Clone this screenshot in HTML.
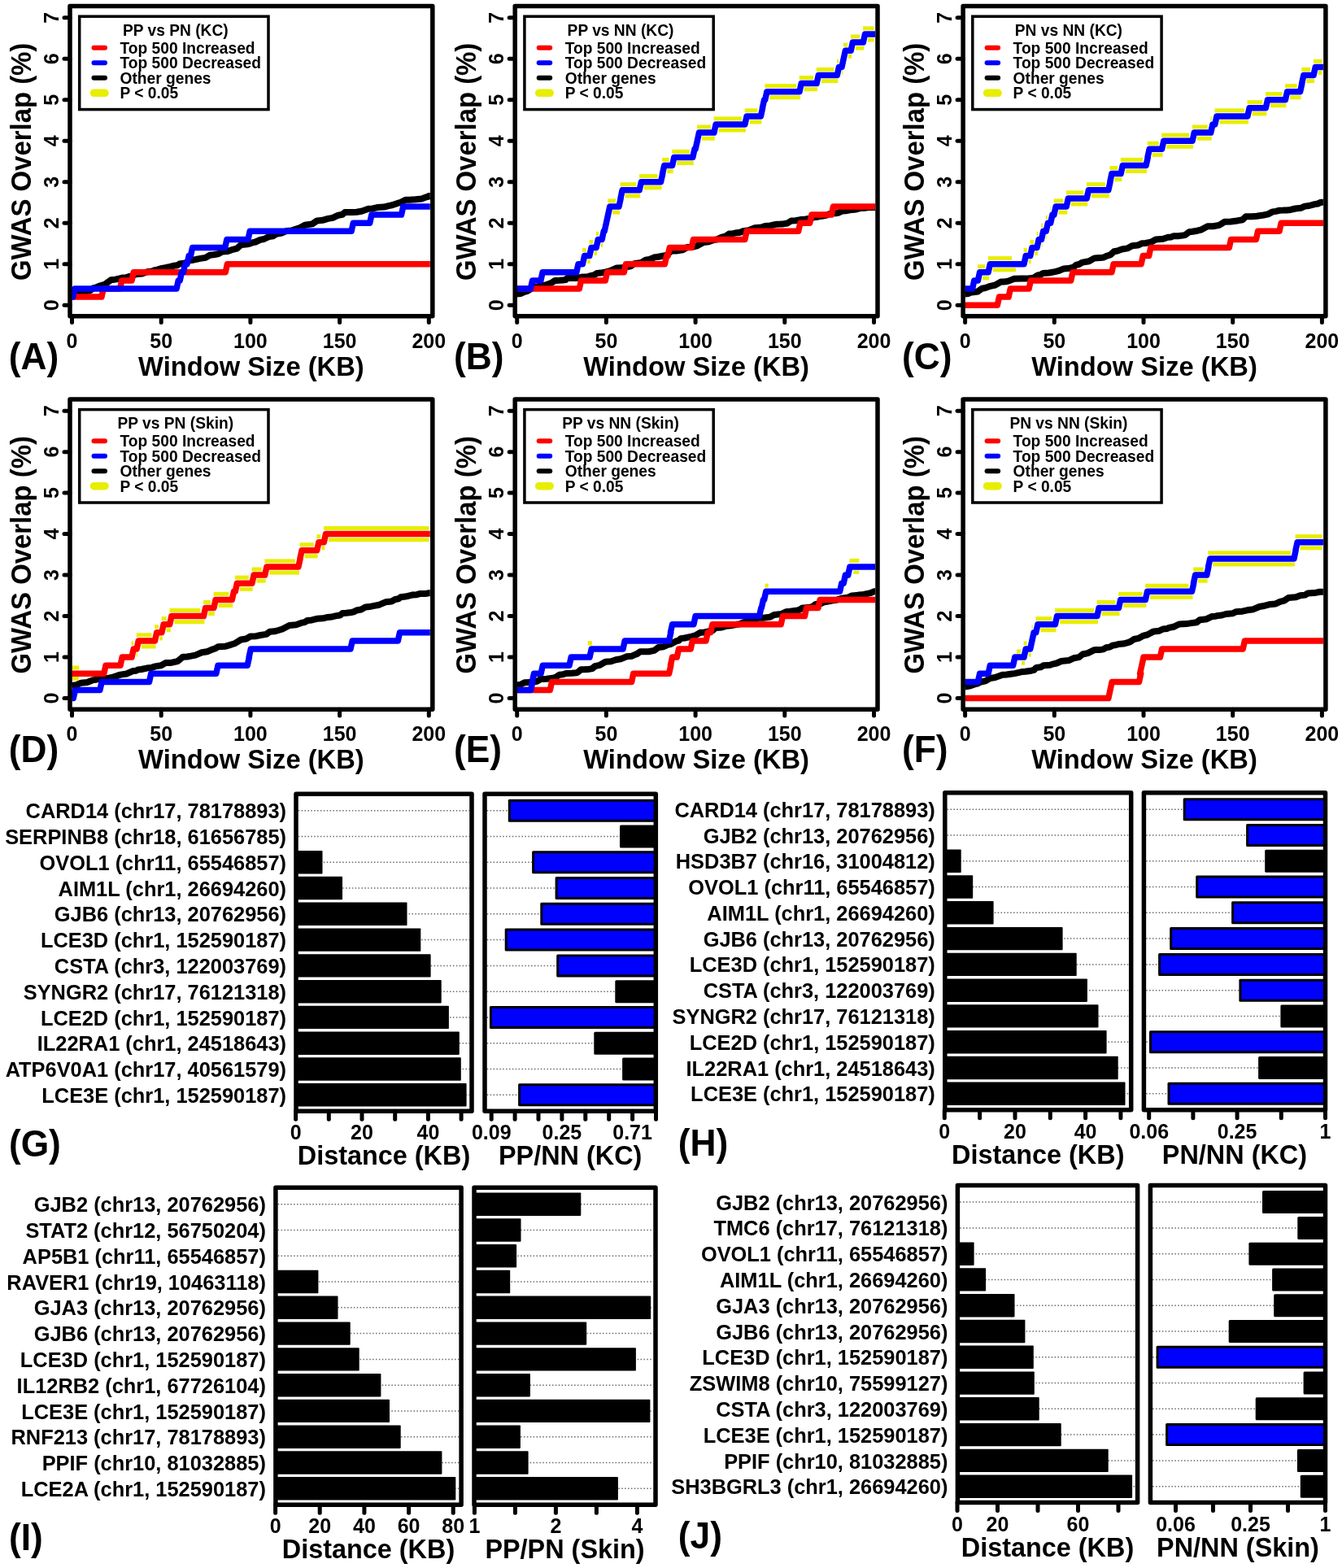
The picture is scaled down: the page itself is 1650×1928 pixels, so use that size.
<!DOCTYPE html>
<html><head><meta charset="utf-8"><style>
html,body{margin:0;padding:0;background:#fff;width:1650px;height:1928px;overflow:hidden}
svg{display:block;font-family:'Liberation Sans',Arial,sans-serif;font-weight:bold}
</style></head><body>
<svg width="1650" height="1928" viewBox="0 0 1650 1928">
<rect width="1650" height="1928" fill="#fff"/>
<g>
<path d="M88.5,364.1 L92.3,363.3 L96.3,360.8 L99.6,360.2 L103.7,358.5 L110.7,357.4 L114.9,354.1 L117.7,353.6 L121.7,351.8 L128.5,349.9 L136.4,344.3 L141.9,343.6 L150.4,341.6 L155.1,341.2 L158.0,340.2 L162.0,339.4 L167.8,337.1 L174.7,336.4 L181.0,334.2 L186.4,333.7 L190.7,332.1 L193.7,331.6 L198.5,329.9 L202.2,329.6 L205.0,328.7 L208.3,328.2 L213.4,326.8 L218.1,326.2 L220.6,324.5 L227.9,323.5 L232.6,320.3 L237.7,319.7 L246.1,317.9 L252.7,316.9 L258.0,313.8 L260.1,313.6 L264.0,313.0 L268.7,312.1 L273.2,309.5 L280.0,308.9 L285.0,307.2 L291.1,305.7 L296.4,301.0 L299.6,300.8 L304.1,300.2 L306.5,299.8 L310.2,298.4 L314.2,297.5 L319.9,294.9 L324.4,294.0 L330.5,291.1 L335.9,290.3 L339.5,287.8 L344.9,286.9 L352.4,284.1 L358.8,283.4 L365.1,281.3 L368.7,280.2 L374.8,276.7 L384.0,275.4 L389.8,271.4 L396.6,270.8 L403.2,268.9 L409.1,267.9 L415.8,264.7 L421.0,263.8 L423.9,261.1 L433.3,261.0 L438.4,260.7 L444.5,259.7 L453.0,256.8 L458.2,256.4 L463.9,255.1 L472.1,254.6 L477.7,253.1 L482.1,252.3 L488.8,249.9 L492.7,248.9 L498.6,245.8 L503.2,245.7 L510.6,245.3 L518.3,244.5 L525.1,242.1 L526.4,241.8 L527.3,240.9 L528.8,240.9" fill="none" stroke="#000000" stroke-width="8" stroke-linejoin="round"/>
<path d="M88.5,365.1 L124.9,365.1 L127.1,355.0 L147.5,355.0 L149.7,344.9 L162.0,344.9 L164.2,334.8 L277.2,334.8 L279.4,324.7 L528.8,324.7" fill="none" stroke="#ff0000" stroke-width="7.5" stroke-linejoin="round"/>
<path d="M88.5,365.1 L89.6,365.1 L91.8,355.0 L217.1,355.0 L219.3,344.9 L221.2,344.9 L223.4,334.8 L225.4,334.8 L227.6,324.7 L230.0,324.7 L232.2,314.6 L234.4,314.6 L236.6,304.5 L276.7,304.5 L278.9,294.4 L305.0,294.4 L307.2,284.3 L432.1,284.3 L434.3,274.2 L454.7,274.2 L456.9,264.1 L493.5,264.1 L495.7,254.0 L528.8,254.0" fill="none" stroke="#0000ff" stroke-width="7.5" stroke-linejoin="round"/>
<rect x="86.0" y="7.5" width="445.8" height="381.3" fill="none" stroke="#000" stroke-width="5.5" stroke-linejoin="round"/>
<line x1="88.5" y1="388.8" x2="88.5" y2="396.5" stroke="#000" stroke-width="5" stroke-linecap="round"/>
<text transform="translate(88.50,427.60) scale(1,1.040)" font-size="25.00" text-anchor="middle">0</text>
<line x1="198.2" y1="388.8" x2="198.2" y2="396.5" stroke="#000" stroke-width="5" stroke-linecap="round"/>
<text transform="translate(198.20,427.60) scale(1,1.040)" font-size="25.00" text-anchor="middle">50</text>
<line x1="307.9" y1="388.8" x2="307.9" y2="396.5" stroke="#000" stroke-width="5" stroke-linecap="round"/>
<text transform="translate(307.90,427.60) scale(1,1.040)" font-size="25.00" text-anchor="middle">100</text>
<line x1="417.6" y1="388.8" x2="417.6" y2="396.5" stroke="#000" stroke-width="5" stroke-linecap="round"/>
<text transform="translate(417.60,427.60) scale(1,1.040)" font-size="25.00" text-anchor="middle">150</text>
<line x1="527.3" y1="388.8" x2="527.3" y2="396.5" stroke="#000" stroke-width="5" stroke-linecap="round"/>
<text transform="translate(527.30,427.60) scale(1,1.040)" font-size="25.00" text-anchor="middle">200</text>
<line x1="86.0" y1="375.2" x2="79.0" y2="375.2" stroke="#000" stroke-width="5" stroke-linecap="round"/>
<text transform="translate(71.70,375.20) rotate(-90) scale(1,1.040)" font-size="25.00" text-anchor="middle">0</text>
<line x1="86.0" y1="324.7" x2="79.0" y2="324.7" stroke="#000" stroke-width="5" stroke-linecap="round"/>
<text transform="translate(71.70,324.71) rotate(-90) scale(1,1.040)" font-size="25.00" text-anchor="middle">1</text>
<line x1="86.0" y1="274.2" x2="79.0" y2="274.2" stroke="#000" stroke-width="5" stroke-linecap="round"/>
<text transform="translate(71.70,274.22) rotate(-90) scale(1,1.040)" font-size="25.00" text-anchor="middle">2</text>
<line x1="86.0" y1="223.7" x2="79.0" y2="223.7" stroke="#000" stroke-width="5" stroke-linecap="round"/>
<text transform="translate(71.70,223.73) rotate(-90) scale(1,1.040)" font-size="25.00" text-anchor="middle">3</text>
<line x1="86.0" y1="173.2" x2="79.0" y2="173.2" stroke="#000" stroke-width="5" stroke-linecap="round"/>
<text transform="translate(71.70,173.24) rotate(-90) scale(1,1.040)" font-size="25.00" text-anchor="middle">4</text>
<line x1="86.0" y1="122.7" x2="79.0" y2="122.7" stroke="#000" stroke-width="5" stroke-linecap="round"/>
<text transform="translate(71.70,122.75) rotate(-90) scale(1,1.040)" font-size="25.00" text-anchor="middle">5</text>
<line x1="86.0" y1="72.3" x2="79.0" y2="72.3" stroke="#000" stroke-width="5" stroke-linecap="round"/>
<text transform="translate(71.70,72.26) rotate(-90) scale(1,1.040)" font-size="25.00" text-anchor="middle">6</text>
<line x1="86.0" y1="21.8" x2="79.0" y2="21.8" stroke="#000" stroke-width="5" stroke-linecap="round"/>
<text transform="translate(71.70,21.77) rotate(-90) scale(1,1.040)" font-size="25.00" text-anchor="middle">7</text>
<text transform="translate(308.90,462.00) scale(1,1.040)" font-size="32.70" text-anchor="middle">Window Size (KB)</text>
<text transform="translate(38.20,198.90) rotate(-90) scale(1,1.040)" font-size="32.90" text-anchor="middle">GWAS Overlap (%)</text>
<text transform="translate(10.80,453.90) scale(1,1.040)" font-size="44.30">(A)</text>
<rect x="97.7" y="20.2" width="232.3" height="114.4" fill="#fff" stroke="#000" stroke-width="3.5"/>
<text transform="translate(215.80,43.60) scale(1,1.040)" font-size="19.20" text-anchor="middle">PP vs PN (KC)</text>
<line x1="115.5" y1="58.8" x2="129.0" y2="58.8" stroke="#ff0000" stroke-width="6.0" stroke-linecap="round"/>
<text transform="translate(147.50,65.90) scale(1,1.040)" font-size="19.20">Top 500 Increased</text>
<line x1="115.5" y1="77.3" x2="129.0" y2="77.3" stroke="#0000ff" stroke-width="6.0" stroke-linecap="round"/>
<text transform="translate(147.50,84.40) scale(1,1.040)" font-size="19.20">Top 500 Decreased</text>
<line x1="115.5" y1="95.8" x2="129.0" y2="95.8" stroke="#000000" stroke-width="6.0" stroke-linecap="round"/>
<text transform="translate(147.50,102.90) scale(1,1.040)" font-size="19.20">Other genes</text>
<line x1="115.5" y1="114.3" x2="129.0" y2="114.3" stroke="#e8ee00" stroke-width="9.5" stroke-linecap="round"/>
<text transform="translate(147.50,121.40) scale(1,1.040)" font-size="19.20">P &lt; 0.05</text>
</g>
<g>
<path d="M635.7,361.6 L639.8,361.1 L643.3,359.5 L648.1,358.0 L656.3,353.2 L660.8,352.7 L665.1,351.1 L670.7,350.4 L676.3,348.4 L678.6,347.5 L682.4,344.9 L687.5,344.8 L691.5,344.6 L695.4,344.0 L697.5,342.0 L701.3,342.0 L706.2,342.0 L710.7,341.7 L714.1,340.8 L722.1,340.3 L727.1,338.8 L730.6,338.1 L734.0,336.0 L738.6,335.6 L745.0,334.4 L749.9,333.2 L758.4,329.4 L764.7,329.2 L768.4,328.6 L775.5,327.4 L779.9,324.1 L788.3,323.0 L793.8,319.8 L798.6,318.9 L805.2,316.2 L807.9,316.0 L812.3,315.2 L820.3,313.6 L825.2,308.5 L829.1,308.5 L831.4,308.5 L839.0,307.4 L844.9,304.1 L848.0,304.0 L852.8,303.5 L857.6,302.1 L864.9,298.0 L871.4,297.3 L877.6,295.1 L882.3,294.2 L887.4,291.7 L891.7,290.7 L896.4,287.5 L901.1,287.2 L905.8,286.2 L910.0,285.7 L913.5,284.3 L920.6,283.2 L928.0,280.2 L936.0,279.6 L940.6,278.1 L946.9,277.5 L955.0,275.7 L959.4,275.6 L962.7,275.4 L968.2,274.5 L972.8,271.5 L978.3,271.2 L984.1,270.1 L989.6,269.8 L993.5,268.9 L997.7,268.4 L1001.0,267.1 L1005.4,266.7 L1010.2,265.7 L1015.6,264.8 L1022.4,262.2 L1025.8,262.2 L1028.4,262.2 L1031.3,261.5 L1035.1,259.6 L1039.7,259.2 L1047.4,257.9 L1052.6,257.4 L1058.0,255.9 L1063.2,255.7 L1067.5,255.1 L1071.4,255.1 L1074.5,255.0 L1076.0,255.0" fill="none" stroke="#000000" stroke-width="8" stroke-linejoin="round"/>
<rect x="712.2" y="315.1" width="0.3" height="5.0" fill="#e8ee00"/>
<rect x="716.1" y="305.0" width="4.6" height="5.0" fill="#e8ee00"/>
<rect x="722.1" y="319.2" width="3.6" height="5.0" fill="#e8ee00"/>
<rect x="724.5" y="294.9" width="4.6" height="5.0" fill="#e8ee00"/>
<rect x="730.5" y="309.1" width="3.6" height="5.0" fill="#e8ee00"/>
<rect x="732.8" y="284.8" width="3.3" height="5.0" fill="#e8ee00"/>
<rect x="738.8" y="299.0" width="2.3" height="5.0" fill="#e8ee00"/>
<rect x="747.3" y="244.4" width="9.7" height="5.0" fill="#e8ee00"/>
<rect x="753.3" y="258.6" width="8.7" height="5.0" fill="#e8ee00"/>
<rect x="762.6" y="224.2" width="19.6" height="5.0" fill="#e8ee00"/>
<rect x="768.6" y="238.4" width="18.6" height="5.0" fill="#e8ee00"/>
<rect x="785.9" y="214.1" width="22.6" height="5.0" fill="#e8ee00"/>
<rect x="791.9" y="228.3" width="21.6" height="5.0" fill="#e8ee00"/>
<rect x="814.2" y="193.9" width="8.4" height="5.0" fill="#e8ee00"/>
<rect x="820.2" y="208.1" width="7.4" height="5.0" fill="#e8ee00"/>
<rect x="826.3" y="183.8" width="21.5" height="5.0" fill="#e8ee00"/>
<rect x="832.3" y="198.0" width="20.5" height="5.0" fill="#e8ee00"/>
<rect x="857.0" y="153.5" width="16.9" height="5.0" fill="#e8ee00"/>
<rect x="863.0" y="167.7" width="15.9" height="5.0" fill="#e8ee00"/>
<rect x="877.6" y="143.4" width="34.3" height="5.0" fill="#e8ee00"/>
<rect x="883.6" y="157.6" width="33.3" height="5.0" fill="#e8ee00"/>
<rect x="915.6" y="133.3" width="15.8" height="5.0" fill="#e8ee00"/>
<rect x="921.6" y="147.5" width="14.8" height="5.0" fill="#e8ee00"/>
<rect x="940.4" y="103.1" width="38.7" height="5.0" fill="#e8ee00"/>
<rect x="946.4" y="117.3" width="37.7" height="5.0" fill="#e8ee00"/>
<rect x="982.7" y="93.0" width="17.4" height="5.0" fill="#e8ee00"/>
<rect x="988.7" y="107.2" width="16.4" height="5.0" fill="#e8ee00"/>
<rect x="1003.8" y="82.9" width="21.5" height="5.0" fill="#e8ee00"/>
<rect x="1009.8" y="97.1" width="20.5" height="5.0" fill="#e8ee00"/>
<rect x="1029.0" y="72.8" width="2.0" height="5.0" fill="#e8ee00"/>
<rect x="1035.0" y="87.0" width="1.0" height="5.0" fill="#e8ee00"/>
<rect x="1036.9" y="52.6" width="5.3" height="5.0" fill="#e8ee00"/>
<rect x="1042.9" y="66.8" width="4.3" height="5.0" fill="#e8ee00"/>
<rect x="1045.9" y="42.5" width="11.4" height="5.0" fill="#e8ee00"/>
<rect x="1051.9" y="56.7" width="10.4" height="5.0" fill="#e8ee00"/>
<rect x="1061.0" y="32.4" width="13.5" height="5.0" fill="#e8ee00"/>
<rect x="1067.0" y="46.6" width="7.5" height="5.0" fill="#e8ee00"/>
<path d="M635.7,355.0 L712.3,355.0 L714.5,344.9 L744.3,344.9 L746.5,334.8 L767.3,334.8 L769.5,324.7 L817.4,324.7 L819.6,314.6 L821.1,314.6 L823.3,304.5 L850.3,304.5 L852.5,294.4 L915.9,294.4 L918.1,284.3 L981.7,284.3 L983.9,274.2 L995.7,274.2 L997.9,264.1 L1022.3,264.1 L1024.5,254.0 L1076.0,254.0" fill="none" stroke="#ff0000" stroke-width="7.5" stroke-linejoin="round"/>
<path d="M635.7,355.0 L652.4,355.0 L654.6,344.9 L664.9,344.9 L667.1,334.8 L708.8,334.8 L711.0,324.7 L716.4,324.7 L718.6,314.6 L724.8,314.6 L727.0,304.5 L733.1,304.5 L735.3,294.4 L740.1,294.4 L742.3,284.3 L743.2,284.3 L745.4,274.2 L745.4,274.2 L747.6,264.1 L747.6,264.1 L749.8,254.0 L761.0,254.0 L763.2,243.9 L763.0,243.9 L765.1,233.8 L786.2,233.8 L788.4,223.7 L812.5,223.7 L814.7,213.6 L814.5,213.6 L816.7,203.5 L826.6,203.5 L828.8,193.4 L851.8,193.4 L854.0,183.3 L855.1,183.3 L857.3,173.2 L857.3,173.2 L859.5,163.1 L877.9,163.1 L880.1,153.0 L915.9,153.0 L918.1,142.9 L935.4,142.9 L937.6,132.8 L937.4,132.8 L939.6,122.7 L940.7,122.7 L942.9,112.7 L983.0,112.7 L985.2,102.6 L1004.1,102.6 L1006.3,92.5 L1029.3,92.5 L1031.5,82.4 L1035.0,82.4 L1037.2,72.3 L1037.2,72.3 L1039.4,62.2 L1046.2,62.2 L1048.4,52.1 L1061.3,52.1 L1063.5,42.0 L1076.0,42.0" fill="none" stroke="#0000ff" stroke-width="7.5" stroke-linejoin="round"/>
<rect x="633.2" y="7.5" width="445.8" height="381.3" fill="none" stroke="#000" stroke-width="5.5" stroke-linejoin="round"/>
<line x1="635.7" y1="388.8" x2="635.7" y2="396.5" stroke="#000" stroke-width="5" stroke-linecap="round"/>
<text transform="translate(635.70,427.60) scale(1,1.040)" font-size="25.00" text-anchor="middle">0</text>
<line x1="745.4" y1="388.8" x2="745.4" y2="396.5" stroke="#000" stroke-width="5" stroke-linecap="round"/>
<text transform="translate(745.40,427.60) scale(1,1.040)" font-size="25.00" text-anchor="middle">50</text>
<line x1="855.1" y1="388.8" x2="855.1" y2="396.5" stroke="#000" stroke-width="5" stroke-linecap="round"/>
<text transform="translate(855.10,427.60) scale(1,1.040)" font-size="25.00" text-anchor="middle">100</text>
<line x1="964.8" y1="388.8" x2="964.8" y2="396.5" stroke="#000" stroke-width="5" stroke-linecap="round"/>
<text transform="translate(964.80,427.60) scale(1,1.040)" font-size="25.00" text-anchor="middle">150</text>
<line x1="1074.5" y1="388.8" x2="1074.5" y2="396.5" stroke="#000" stroke-width="5" stroke-linecap="round"/>
<text transform="translate(1074.50,427.60) scale(1,1.040)" font-size="25.00" text-anchor="middle">200</text>
<line x1="633.2" y1="375.2" x2="626.2" y2="375.2" stroke="#000" stroke-width="5" stroke-linecap="round"/>
<text transform="translate(618.90,375.20) rotate(-90) scale(1,1.040)" font-size="25.00" text-anchor="middle">0</text>
<line x1="633.2" y1="324.7" x2="626.2" y2="324.7" stroke="#000" stroke-width="5" stroke-linecap="round"/>
<text transform="translate(618.90,324.71) rotate(-90) scale(1,1.040)" font-size="25.00" text-anchor="middle">1</text>
<line x1="633.2" y1="274.2" x2="626.2" y2="274.2" stroke="#000" stroke-width="5" stroke-linecap="round"/>
<text transform="translate(618.90,274.22) rotate(-90) scale(1,1.040)" font-size="25.00" text-anchor="middle">2</text>
<line x1="633.2" y1="223.7" x2="626.2" y2="223.7" stroke="#000" stroke-width="5" stroke-linecap="round"/>
<text transform="translate(618.90,223.73) rotate(-90) scale(1,1.040)" font-size="25.00" text-anchor="middle">3</text>
<line x1="633.2" y1="173.2" x2="626.2" y2="173.2" stroke="#000" stroke-width="5" stroke-linecap="round"/>
<text transform="translate(618.90,173.24) rotate(-90) scale(1,1.040)" font-size="25.00" text-anchor="middle">4</text>
<line x1="633.2" y1="122.7" x2="626.2" y2="122.7" stroke="#000" stroke-width="5" stroke-linecap="round"/>
<text transform="translate(618.90,122.75) rotate(-90) scale(1,1.040)" font-size="25.00" text-anchor="middle">5</text>
<line x1="633.2" y1="72.3" x2="626.2" y2="72.3" stroke="#000" stroke-width="5" stroke-linecap="round"/>
<text transform="translate(618.90,72.26) rotate(-90) scale(1,1.040)" font-size="25.00" text-anchor="middle">6</text>
<line x1="633.2" y1="21.8" x2="626.2" y2="21.8" stroke="#000" stroke-width="5" stroke-linecap="round"/>
<text transform="translate(618.90,21.77) rotate(-90) scale(1,1.040)" font-size="25.00" text-anchor="middle">7</text>
<text transform="translate(856.10,462.00) scale(1,1.040)" font-size="32.70" text-anchor="middle">Window Size (KB)</text>
<text transform="translate(585.40,198.90) rotate(-90) scale(1,1.040)" font-size="32.90" text-anchor="middle">GWAS Overlap (%)</text>
<text transform="translate(558.00,453.90) scale(1,1.040)" font-size="44.30">(B)</text>
<rect x="644.9" y="20.2" width="232.3" height="114.4" fill="#fff" stroke="#000" stroke-width="3.5"/>
<text transform="translate(763.00,43.60) scale(1,1.040)" font-size="19.20" text-anchor="middle">PP vs NN (KC)</text>
<line x1="662.7" y1="58.8" x2="676.2" y2="58.8" stroke="#ff0000" stroke-width="6.0" stroke-linecap="round"/>
<text transform="translate(694.70,65.90) scale(1,1.040)" font-size="19.20">Top 500 Increased</text>
<line x1="662.7" y1="77.3" x2="676.2" y2="77.3" stroke="#0000ff" stroke-width="6.0" stroke-linecap="round"/>
<text transform="translate(694.70,84.40) scale(1,1.040)" font-size="19.20">Top 500 Decreased</text>
<line x1="662.7" y1="95.8" x2="676.2" y2="95.8" stroke="#000000" stroke-width="6.0" stroke-linecap="round"/>
<text transform="translate(694.70,102.90) scale(1,1.040)" font-size="19.20">Other genes</text>
<line x1="662.7" y1="114.3" x2="676.2" y2="114.3" stroke="#e8ee00" stroke-width="9.5" stroke-linecap="round"/>
<text transform="translate(694.70,121.40) scale(1,1.040)" font-size="19.20">P &lt; 0.05</text>
</g>
<g>
<path d="M1186.6,361.6 L1190.2,361.1 L1192.8,359.8 L1202.2,358.5 L1207.3,354.7 L1211.5,354.0 L1217.7,351.8 L1223.7,350.5 L1230.7,346.6 L1233.8,346.5 L1236.6,346.3 L1240.4,345.4 L1247.0,342.7 L1256.1,342.6 L1261.7,342.6 L1270.6,341.6 L1275.9,338.5 L1278.9,337.9 L1282.4,336.0 L1289.7,335.5 L1297.1,334.1 L1301.0,333.2 L1308.0,330.4 L1312.8,330.1 L1316.2,329.5 L1320.2,328.6 L1322.8,325.9 L1326.7,325.0 L1331.0,322.6 L1338.9,321.3 L1345.7,317.4 L1348.3,317.3 L1352.3,317.1 L1357.1,316.5 L1360.8,314.7 L1365.0,313.4 L1369.7,309.2 L1373.9,308.5 L1379.3,306.5 L1386.0,305.4 L1391.9,302.2 L1399.0,301.5 L1404.2,299.3 L1408.4,299.0 L1411.4,298.3 L1416.1,297.3 L1420.9,294.5 L1430.1,293.8 L1436.1,291.8 L1440.1,291.4 L1442.6,290.3 L1445.5,290.3 L1448.4,290.3 L1456.9,289.1 L1462.1,285.2 L1466.2,284.8 L1472.1,283.7 L1477.4,282.3 L1484.7,278.3 L1488.7,278.3 L1491.5,278.3 L1499.0,276.9 L1505.5,272.8 L1513.4,272.5 L1520.8,271.5 L1527.8,270.2 L1531.9,266.2 L1535.2,266.2 L1539.1,266.2 L1545.2,265.8 L1553.5,264.5 L1559.0,263.4 L1564.7,260.4 L1568.7,259.9 L1573.3,258.7 L1577.7,258.6 L1581.9,258.4 L1586.8,257.9 L1592.6,256.5 L1599.3,255.8 L1604.2,253.6 L1609.5,253.0 L1616.4,251.1 L1620.3,250.5 L1624.2,248.7 L1624.7,248.7 L1625.4,248.7 L1626.9,248.7" fill="none" stroke="#000000" stroke-width="8" stroke-linejoin="round"/>
<rect x="1202.1" y="325.2" width="9.0" height="5.0" fill="#e8ee00"/>
<rect x="1208.1" y="339.4" width="8.0" height="5.0" fill="#e8ee00"/>
<rect x="1214.8" y="315.1" width="29.2" height="5.0" fill="#e8ee00"/>
<rect x="1220.8" y="329.3" width="28.2" height="5.0" fill="#e8ee00"/>
<rect x="1258.7" y="305.0" width="4.0" height="5.0" fill="#e8ee00"/>
<rect x="1264.7" y="319.2" width="3.0" height="5.0" fill="#e8ee00"/>
<rect x="1266.4" y="294.9" width="4.6" height="5.0" fill="#e8ee00"/>
<rect x="1272.4" y="309.1" width="3.6" height="5.0" fill="#e8ee00"/>
<rect x="1274.7" y="284.8" width="1.8" height="5.0" fill="#e8ee00"/>
<rect x="1280.7" y="299.0" width="0.8" height="5.0" fill="#e8ee00"/>
<rect x="1280.2" y="274.7" width="2.0" height="5.0" fill="#e8ee00"/>
<rect x="1286.2" y="288.9" width="1.0" height="5.0" fill="#e8ee00"/>
<rect x="1285.9" y="264.6" width="1.8" height="5.0" fill="#e8ee00"/>
<rect x="1291.9" y="278.8" width="0.8" height="5.0" fill="#e8ee00"/>
<rect x="1291.4" y="254.5" width="0.5" height="5.0" fill="#e8ee00"/>
<rect x="1295.6" y="244.4" width="11.7" height="5.0" fill="#e8ee00"/>
<rect x="1301.6" y="258.6" width="10.7" height="5.0" fill="#e8ee00"/>
<rect x="1310.9" y="234.3" width="21.3" height="5.0" fill="#e8ee00"/>
<rect x="1316.9" y="248.5" width="20.3" height="5.0" fill="#e8ee00"/>
<rect x="1335.9" y="224.2" width="22.9" height="5.0" fill="#e8ee00"/>
<rect x="1341.9" y="238.4" width="21.9" height="5.0" fill="#e8ee00"/>
<rect x="1364.4" y="204.0" width="9.7" height="5.0" fill="#e8ee00"/>
<rect x="1370.4" y="218.2" width="8.7" height="5.0" fill="#e8ee00"/>
<rect x="1377.8" y="193.9" width="27.2" height="5.0" fill="#e8ee00"/>
<rect x="1383.8" y="208.1" width="26.2" height="5.0" fill="#e8ee00"/>
<rect x="1410.7" y="173.7" width="13.9" height="5.0" fill="#e8ee00"/>
<rect x="1416.7" y="187.9" width="12.9" height="5.0" fill="#e8ee00"/>
<rect x="1428.3" y="163.6" width="33.8" height="5.0" fill="#e8ee00"/>
<rect x="1434.3" y="177.8" width="32.8" height="5.0" fill="#e8ee00"/>
<rect x="1465.8" y="153.5" width="18.9" height="5.0" fill="#e8ee00"/>
<rect x="1471.8" y="167.7" width="17.9" height="5.0" fill="#e8ee00"/>
<rect x="1488.4" y="143.4" width="1.4" height="5.0" fill="#e8ee00"/>
<rect x="1494.4" y="157.6" width="0.4" height="5.0" fill="#e8ee00"/>
<rect x="1493.5" y="133.3" width="36.5" height="5.0" fill="#e8ee00"/>
<rect x="1499.5" y="147.5" width="35.5" height="5.0" fill="#e8ee00"/>
<rect x="1533.6" y="123.2" width="18.7" height="5.0" fill="#e8ee00"/>
<rect x="1539.6" y="137.4" width="17.7" height="5.0" fill="#e8ee00"/>
<rect x="1556.0" y="113.1" width="20.4" height="5.0" fill="#e8ee00"/>
<rect x="1562.0" y="127.3" width="19.4" height="5.0" fill="#e8ee00"/>
<rect x="1580.1" y="103.1" width="14.5" height="5.0" fill="#e8ee00"/>
<rect x="1586.1" y="117.3" width="13.5" height="5.0" fill="#e8ee00"/>
<rect x="1600.3" y="82.9" width="10.8" height="5.0" fill="#e8ee00"/>
<rect x="1606.3" y="97.1" width="9.8" height="5.0" fill="#e8ee00"/>
<rect x="1614.8" y="72.8" width="10.6" height="5.0" fill="#e8ee00"/>
<rect x="1620.8" y="87.0" width="4.6" height="5.0" fill="#e8ee00"/>
<path d="M1186.6,375.2 L1226.3,375.2 L1228.5,365.1 L1240.1,365.1 L1242.3,355.0 L1265.1,355.0 L1267.3,344.9 L1316.7,344.9 L1318.9,334.8 L1366.9,334.8 L1369.1,324.7 L1403.1,324.7 L1405.3,314.6 L1412.6,314.6 L1414.8,304.5 L1511.3,304.5 L1513.5,294.4 L1544.4,294.4 L1546.6,284.3 L1573.0,284.3 L1575.2,274.2 L1626.9,274.2" fill="none" stroke="#ff0000" stroke-width="7.5" stroke-linejoin="round"/>
<path d="M1186.6,355.0 L1195.6,355.0 L1197.8,344.9 L1202.4,344.9 L1204.6,334.8 L1215.1,334.8 L1217.3,324.7 L1259.0,324.7 L1261.2,314.6 L1266.7,314.6 L1268.9,304.5 L1275.0,304.5 L1277.2,294.4 L1280.5,294.4 L1282.7,284.3 L1286.2,284.3 L1288.4,274.2 L1291.7,274.2 L1293.9,264.1 L1295.9,264.1 L1298.1,254.0 L1311.2,254.0 L1313.4,243.9 L1336.2,243.9 L1338.4,233.8 L1362.8,233.8 L1365.0,223.7 L1364.8,223.7 L1366.9,213.6 L1378.1,213.6 L1380.3,203.5 L1409.1,203.5 L1411.3,193.4 L1411.0,193.4 L1413.2,183.3 L1428.6,183.3 L1430.8,173.2 L1466.1,173.2 L1468.3,163.1 L1488.7,163.1 L1490.9,153.0 L1493.8,153.0 L1496.0,142.9 L1533.9,142.9 L1536.1,132.8 L1556.3,132.8 L1558.5,122.7 L1580.4,122.7 L1582.6,112.7 L1598.6,112.7 L1600.8,102.6 L1600.6,102.6 L1602.8,92.5 L1615.1,92.5 L1617.3,82.4 L1626.9,82.4" fill="none" stroke="#0000ff" stroke-width="7.5" stroke-linejoin="round"/>
<rect x="1184.1" y="7.5" width="445.8" height="381.3" fill="none" stroke="#000" stroke-width="5.5" stroke-linejoin="round"/>
<line x1="1186.6" y1="388.8" x2="1186.6" y2="396.5" stroke="#000" stroke-width="5" stroke-linecap="round"/>
<text transform="translate(1186.60,427.60) scale(1,1.040)" font-size="25.00" text-anchor="middle">0</text>
<line x1="1296.3" y1="388.8" x2="1296.3" y2="396.5" stroke="#000" stroke-width="5" stroke-linecap="round"/>
<text transform="translate(1296.30,427.60) scale(1,1.040)" font-size="25.00" text-anchor="middle">50</text>
<line x1="1406.0" y1="388.8" x2="1406.0" y2="396.5" stroke="#000" stroke-width="5" stroke-linecap="round"/>
<text transform="translate(1406.00,427.60) scale(1,1.040)" font-size="25.00" text-anchor="middle">100</text>
<line x1="1515.7" y1="388.8" x2="1515.7" y2="396.5" stroke="#000" stroke-width="5" stroke-linecap="round"/>
<text transform="translate(1515.70,427.60) scale(1,1.040)" font-size="25.00" text-anchor="middle">150</text>
<line x1="1625.4" y1="388.8" x2="1625.4" y2="396.5" stroke="#000" stroke-width="5" stroke-linecap="round"/>
<text transform="translate(1625.40,427.60) scale(1,1.040)" font-size="25.00" text-anchor="middle">200</text>
<line x1="1184.1" y1="375.2" x2="1177.1" y2="375.2" stroke="#000" stroke-width="5" stroke-linecap="round"/>
<text transform="translate(1169.80,375.20) rotate(-90) scale(1,1.040)" font-size="25.00" text-anchor="middle">0</text>
<line x1="1184.1" y1="324.7" x2="1177.1" y2="324.7" stroke="#000" stroke-width="5" stroke-linecap="round"/>
<text transform="translate(1169.80,324.71) rotate(-90) scale(1,1.040)" font-size="25.00" text-anchor="middle">1</text>
<line x1="1184.1" y1="274.2" x2="1177.1" y2="274.2" stroke="#000" stroke-width="5" stroke-linecap="round"/>
<text transform="translate(1169.80,274.22) rotate(-90) scale(1,1.040)" font-size="25.00" text-anchor="middle">2</text>
<line x1="1184.1" y1="223.7" x2="1177.1" y2="223.7" stroke="#000" stroke-width="5" stroke-linecap="round"/>
<text transform="translate(1169.80,223.73) rotate(-90) scale(1,1.040)" font-size="25.00" text-anchor="middle">3</text>
<line x1="1184.1" y1="173.2" x2="1177.1" y2="173.2" stroke="#000" stroke-width="5" stroke-linecap="round"/>
<text transform="translate(1169.80,173.24) rotate(-90) scale(1,1.040)" font-size="25.00" text-anchor="middle">4</text>
<line x1="1184.1" y1="122.7" x2="1177.1" y2="122.7" stroke="#000" stroke-width="5" stroke-linecap="round"/>
<text transform="translate(1169.80,122.75) rotate(-90) scale(1,1.040)" font-size="25.00" text-anchor="middle">5</text>
<line x1="1184.1" y1="72.3" x2="1177.1" y2="72.3" stroke="#000" stroke-width="5" stroke-linecap="round"/>
<text transform="translate(1169.80,72.26) rotate(-90) scale(1,1.040)" font-size="25.00" text-anchor="middle">6</text>
<line x1="1184.1" y1="21.8" x2="1177.1" y2="21.8" stroke="#000" stroke-width="5" stroke-linecap="round"/>
<text transform="translate(1169.80,21.77) rotate(-90) scale(1,1.040)" font-size="25.00" text-anchor="middle">7</text>
<text transform="translate(1407.00,462.00) scale(1,1.040)" font-size="32.70" text-anchor="middle">Window Size (KB)</text>
<text transform="translate(1136.30,198.90) rotate(-90) scale(1,1.040)" font-size="32.90" text-anchor="middle">GWAS Overlap (%)</text>
<text transform="translate(1108.90,453.90) scale(1,1.040)" font-size="44.30">(C)</text>
<rect x="1195.8" y="20.2" width="232.3" height="114.4" fill="#fff" stroke="#000" stroke-width="3.5"/>
<text transform="translate(1313.90,43.60) scale(1,1.040)" font-size="19.20" text-anchor="middle">PN vs NN (KC)</text>
<line x1="1213.6" y1="58.8" x2="1227.1" y2="58.8" stroke="#ff0000" stroke-width="6.0" stroke-linecap="round"/>
<text transform="translate(1245.60,65.90) scale(1,1.040)" font-size="19.20">Top 500 Increased</text>
<line x1="1213.6" y1="77.3" x2="1227.1" y2="77.3" stroke="#0000ff" stroke-width="6.0" stroke-linecap="round"/>
<text transform="translate(1245.60,84.40) scale(1,1.040)" font-size="19.20">Top 500 Decreased</text>
<line x1="1213.6" y1="95.8" x2="1227.1" y2="95.8" stroke="#000000" stroke-width="6.0" stroke-linecap="round"/>
<text transform="translate(1245.60,102.90) scale(1,1.040)" font-size="19.20">Other genes</text>
<line x1="1213.6" y1="114.3" x2="1227.1" y2="114.3" stroke="#e8ee00" stroke-width="9.5" stroke-linecap="round"/>
<text transform="translate(1245.60,121.40) scale(1,1.040)" font-size="19.20">P &lt; 0.05</text>
</g>
<g>
<path d="M88.5,842.9 L93.9,842.1 L99.6,839.7 L107.2,838.9 L113.6,836.4 L117.2,835.9 L122.8,834.3 L129.4,834.1 L133.6,833.6 L139.0,832.6 L148.0,829.6 L155.6,828.5 L163.3,825.1 L167.2,824.7 L169.5,823.5 L173.9,823.0 L180.4,821.6 L185.6,821.1 L190.9,819.4 L198.1,818.3 L203.9,814.9 L206.7,814.9 L210.5,814.9 L218.3,813.1 L225.0,807.7 L230.2,807.5 L233.7,806.8 L240.2,805.6 L248.1,802.3 L254.6,801.3 L261.7,798.3 L264.4,797.5 L268.0,795.3 L277.5,794.7 L283.4,792.9 L288.4,791.3 L296.3,786.5 L302.7,785.5 L307.8,782.6 L314.9,782.2 L320.3,781.0 L327.3,779.9 L331.7,776.7 L337.4,776.3 L342.4,775.0 L347.2,773.5 L355.8,769.0 L364.0,768.2 L370.4,765.9 L374.5,765.1 L377.9,763.0 L383.4,762.4 L389.6,760.8 L397.1,760.3 L402.8,758.9 L408.2,758.5 L412.3,757.4 L418.2,756.5 L421.3,753.9 L425.7,753.7 L431.8,753.0 L434.8,752.4 L438.4,750.5 L444.0,749.5 L449.3,746.6 L453.9,746.1 L460.0,744.9 L466.2,743.7 L474.0,740.3 L481.4,739.5 L485.8,737.0 L490.2,736.3 L492.6,734.2 L498.4,733.6 L506.7,731.6 L512.4,731.2 L516.8,729.9 L518.7,729.9 L522.2,729.9 L524.6,729.7 L527.3,729.3 L528.8,729.3" fill="none" stroke="#000000" stroke-width="8" stroke-linejoin="round"/>
<rect x="88.8" y="818.5" width="8.5" height="5.0" fill="#e8ee00"/>
<rect x="88.8" y="831.8" width="7.9" height="4.9" fill="#e8ee00"/>
<rect x="161.7" y="788.4" width="2.4" height="5.0" fill="#e8ee00"/>
<rect x="167.7" y="802.6" width="1.4" height="5.0" fill="#e8ee00"/>
<rect x="167.8" y="778.3" width="18.7" height="5.0" fill="#e8ee00"/>
<rect x="173.8" y="792.5" width="17.7" height="5.0" fill="#e8ee00"/>
<rect x="190.2" y="768.2" width="4.6" height="5.0" fill="#e8ee00"/>
<rect x="196.2" y="782.4" width="3.6" height="5.0" fill="#e8ee00"/>
<rect x="198.6" y="758.1" width="6.2" height="5.0" fill="#e8ee00"/>
<rect x="204.6" y="772.3" width="5.2" height="5.0" fill="#e8ee00"/>
<rect x="208.4" y="748.0" width="38.0" height="5.0" fill="#e8ee00"/>
<rect x="214.4" y="762.2" width="37.0" height="5.0" fill="#e8ee00"/>
<rect x="250.1" y="737.9" width="8.8" height="5.0" fill="#e8ee00"/>
<rect x="256.1" y="752.1" width="7.8" height="5.0" fill="#e8ee00"/>
<rect x="262.6" y="727.8" width="18.7" height="5.0" fill="#e8ee00"/>
<rect x="268.6" y="742.0" width="17.7" height="5.0" fill="#e8ee00"/>
<rect x="285.0" y="717.7" width="0.3" height="5.0" fill="#e8ee00"/>
<rect x="288.9" y="707.6" width="16.9" height="5.0" fill="#e8ee00"/>
<rect x="294.9" y="721.8" width="15.9" height="5.0" fill="#e8ee00"/>
<rect x="309.6" y="697.5" width="12.1" height="5.0" fill="#e8ee00"/>
<rect x="315.6" y="711.7" width="11.1" height="5.0" fill="#e8ee00"/>
<rect x="325.4" y="687.4" width="37.6" height="5.0" fill="#e8ee00"/>
<rect x="331.4" y="701.6" width="36.6" height="5.0" fill="#e8ee00"/>
<rect x="368.6" y="667.2" width="17.1" height="5.0" fill="#e8ee00"/>
<rect x="374.6" y="681.4" width="16.1" height="5.0" fill="#e8ee00"/>
<rect x="389.4" y="657.1" width="4.9" height="5.0" fill="#e8ee00"/>
<rect x="395.4" y="671.3" width="3.9" height="5.0" fill="#e8ee00"/>
<rect x="398.0" y="647.0" width="129.3" height="5.0" fill="#e8ee00"/>
<rect x="404.0" y="661.2" width="123.3" height="5.0" fill="#e8ee00"/>
<path d="M88.5,858.6 L90.3,858.6 L92.4,848.5 L122.9,848.5 L125.1,838.4 L183.5,838.4 L185.7,828.3 L265.8,828.3 L268.0,818.2 L304.2,818.2 L306.4,808.1 L306.1,808.1 L308.3,798.0 L431.0,798.0 L433.2,787.9 L489.3,787.9 L491.5,777.8 L528.8,777.8" fill="none" stroke="#0000ff" stroke-width="7.5" stroke-linejoin="round"/>
<path d="M88.5,828.3 L127.8,828.3 L130.0,818.2 L148.0,818.2 L150.2,808.1 L162.0,808.1 L164.2,798.0 L168.1,798.0 L170.3,787.9 L190.5,787.9 L192.7,777.8 L198.9,777.8 L201.1,767.7 L208.7,767.7 L210.9,757.6 L250.4,757.6 L252.6,747.5 L262.9,747.5 L265.1,737.4 L285.3,737.4 L287.5,727.3 L289.3,727.3 L291.4,717.2 L309.9,717.2 L312.1,707.1 L325.7,707.1 L327.9,697.0 L366.9,697.0 L369.1,686.9 L368.9,686.9 L371.1,676.8 L389.7,676.8 L391.9,666.7 L398.3,666.7 L400.5,656.6 L528.8,656.6" fill="none" stroke="#ff0000" stroke-width="7.5" stroke-linejoin="round"/>
<rect x="86.0" y="490.9" width="445.8" height="381.3" fill="none" stroke="#000" stroke-width="5.5" stroke-linejoin="round"/>
<line x1="88.5" y1="872.2" x2="88.5" y2="879.9" stroke="#000" stroke-width="5" stroke-linecap="round"/>
<text transform="translate(88.50,911.00) scale(1,1.040)" font-size="25.00" text-anchor="middle">0</text>
<line x1="198.2" y1="872.2" x2="198.2" y2="879.9" stroke="#000" stroke-width="5" stroke-linecap="round"/>
<text transform="translate(198.20,911.00) scale(1,1.040)" font-size="25.00" text-anchor="middle">50</text>
<line x1="307.9" y1="872.2" x2="307.9" y2="879.9" stroke="#000" stroke-width="5" stroke-linecap="round"/>
<text transform="translate(307.90,911.00) scale(1,1.040)" font-size="25.00" text-anchor="middle">100</text>
<line x1="417.6" y1="872.2" x2="417.6" y2="879.9" stroke="#000" stroke-width="5" stroke-linecap="round"/>
<text transform="translate(417.60,911.00) scale(1,1.040)" font-size="25.00" text-anchor="middle">150</text>
<line x1="527.3" y1="872.2" x2="527.3" y2="879.9" stroke="#000" stroke-width="5" stroke-linecap="round"/>
<text transform="translate(527.30,911.00) scale(1,1.040)" font-size="25.00" text-anchor="middle">200</text>
<line x1="86.0" y1="858.6" x2="79.0" y2="858.6" stroke="#000" stroke-width="5" stroke-linecap="round"/>
<text transform="translate(71.70,858.60) rotate(-90) scale(1,1.040)" font-size="25.00" text-anchor="middle">0</text>
<line x1="86.0" y1="808.1" x2="79.0" y2="808.1" stroke="#000" stroke-width="5" stroke-linecap="round"/>
<text transform="translate(71.70,808.11) rotate(-90) scale(1,1.040)" font-size="25.00" text-anchor="middle">1</text>
<line x1="86.0" y1="757.6" x2="79.0" y2="757.6" stroke="#000" stroke-width="5" stroke-linecap="round"/>
<text transform="translate(71.70,757.62) rotate(-90) scale(1,1.040)" font-size="25.00" text-anchor="middle">2</text>
<line x1="86.0" y1="707.1" x2="79.0" y2="707.1" stroke="#000" stroke-width="5" stroke-linecap="round"/>
<text transform="translate(71.70,707.13) rotate(-90) scale(1,1.040)" font-size="25.00" text-anchor="middle">3</text>
<line x1="86.0" y1="656.6" x2="79.0" y2="656.6" stroke="#000" stroke-width="5" stroke-linecap="round"/>
<text transform="translate(71.70,656.64) rotate(-90) scale(1,1.040)" font-size="25.00" text-anchor="middle">4</text>
<line x1="86.0" y1="606.1" x2="79.0" y2="606.1" stroke="#000" stroke-width="5" stroke-linecap="round"/>
<text transform="translate(71.70,606.15) rotate(-90) scale(1,1.040)" font-size="25.00" text-anchor="middle">5</text>
<line x1="86.0" y1="555.7" x2="79.0" y2="555.7" stroke="#000" stroke-width="5" stroke-linecap="round"/>
<text transform="translate(71.70,555.66) rotate(-90) scale(1,1.040)" font-size="25.00" text-anchor="middle">6</text>
<line x1="86.0" y1="505.2" x2="79.0" y2="505.2" stroke="#000" stroke-width="5" stroke-linecap="round"/>
<text transform="translate(71.70,505.17) rotate(-90) scale(1,1.040)" font-size="25.00" text-anchor="middle">7</text>
<text transform="translate(308.90,945.40) scale(1,1.040)" font-size="32.70" text-anchor="middle">Window Size (KB)</text>
<text transform="translate(38.20,682.30) rotate(-90) scale(1,1.040)" font-size="32.90" text-anchor="middle">GWAS Overlap (%)</text>
<text transform="translate(10.80,937.30) scale(1,1.040)" font-size="44.30">(D)</text>
<rect x="97.7" y="503.6" width="232.3" height="114.4" fill="#fff" stroke="#000" stroke-width="3.5"/>
<text transform="translate(215.80,527.00) scale(1,1.040)" font-size="19.20" text-anchor="middle">PP vs PN (Skin)</text>
<line x1="115.5" y1="542.2" x2="129.0" y2="542.2" stroke="#ff0000" stroke-width="6.0" stroke-linecap="round"/>
<text transform="translate(147.50,549.30) scale(1,1.040)" font-size="19.20">Top 500 Increased</text>
<line x1="115.5" y1="560.7" x2="129.0" y2="560.7" stroke="#0000ff" stroke-width="6.0" stroke-linecap="round"/>
<text transform="translate(147.50,567.80) scale(1,1.040)" font-size="19.20">Top 500 Decreased</text>
<line x1="115.5" y1="579.2" x2="129.0" y2="579.2" stroke="#000000" stroke-width="6.0" stroke-linecap="round"/>
<text transform="translate(147.50,586.30) scale(1,1.040)" font-size="19.20">Other genes</text>
<line x1="115.5" y1="597.7" x2="129.0" y2="597.7" stroke="#e8ee00" stroke-width="9.5" stroke-linecap="round"/>
<text transform="translate(147.50,604.80) scale(1,1.040)" font-size="19.20">P &lt; 0.05</text>
</g>
<g>
<path d="M635.7,842.4 L640.1,841.7 L644.8,839.3 L651.3,839.1 L655.5,838.6 L660.2,837.7 L664.8,835.0 L672.0,834.7 L679.5,833.8 L683.1,832.8 L687.7,829.7 L692.2,829.3 L696.1,828.0 L703.1,827.8 L708.7,827.3 L710.8,826.3 L714.3,823.3 L717.5,823.2 L722.6,823.1 L728.1,822.1 L731.6,819.1 L737.5,817.8 L744.4,813.8 L751.3,813.2 L757.2,811.3 L763.0,810.3 L770.7,807.3 L777.0,806.7 L780.5,805.0 L783.1,804.1 L787.1,801.3 L791.4,801.3 L797.4,801.2 L804.4,799.9 L809.6,796.0 L815.9,795.2 L820.9,792.9 L825.2,791.8 L831.0,788.5 L834.6,787.6 L836.8,785.1 L841.8,784.5 L850.5,782.6 L854.9,781.4 L860.8,777.8 L866.2,777.5 L871.3,776.4 L876.1,775.3 L879.8,771.9 L887.5,771.4 L893.3,769.7 L898.3,769.2 L906.0,767.8 L910.1,767.2 L914.4,765.2 L921.1,764.5 L925.3,762.2 L928.3,761.6 L931.0,759.8 L934.4,759.8 L938.4,759.8 L946.6,758.8 L951.8,755.9 L960.6,755.0 L966.3,752.3 L971.7,751.8 L980.8,750.4 L983.4,749.6 L986.7,747.4 L989.9,747.3 L993.1,747.1 L998.7,746.1 L1002.8,743.0 L1008.8,742.3 L1013.2,740.4 L1016.5,739.9 L1022.6,738.5 L1028.5,737.8 L1035.1,735.6 L1042.0,734.8 L1047.4,732.4 L1053.1,732.1 L1056.4,731.4 L1061.9,730.9 L1069.1,729.4 L1071.0,728.9 L1074.5,727.3 L1076.0,727.3" fill="none" stroke="#000000" stroke-width="8" stroke-linejoin="round"/>
<rect x="722.8" y="788.0" width="5.1" height="5.6" fill="#e8ee00"/>
<rect x="940.6" y="717.6" width="4.2" height="4.9" fill="#e8ee00"/>
<rect x="1044.5" y="686.9" width="11.8" height="4.9" fill="#e8ee00"/>
<rect x="1049.3" y="701.6" width="7.0" height="4.2" fill="#e8ee00"/>
<path d="M635.7,848.5 L676.3,848.5 L678.5,838.4 L776.6,838.4 L778.7,828.3 L822.6,828.3 L824.8,818.2 L824.4,818.2 L826.6,808.1 L832.3,808.1 L834.5,798.0 L849.2,798.0 L851.4,787.9 L868.0,787.9 L870.2,777.8 L873.7,777.8 L875.9,767.7 L960.2,767.7 L962.4,757.6 L989.4,757.6 L991.6,747.5 L1006.0,747.5 L1008.2,737.4 L1076.0,737.4" fill="none" stroke="#ff0000" stroke-width="7.5" stroke-linejoin="round"/>
<path d="M635.7,848.5 L652.6,848.5 L654.8,838.4 L654.3,838.4 L656.5,828.3 L665.1,828.3 L667.3,818.2 L700.0,818.2 L702.2,808.1 L725.0,808.1 L727.2,798.0 L766.0,798.0 L768.2,787.9 L822.6,787.9 L824.8,777.8 L824.4,777.8 L826.6,767.7 L852.9,767.7 L855.1,757.6 L933.6,757.6 L935.8,747.5 L936.3,747.5 L938.5,737.4 L939.6,737.4 L941.8,727.3 L1032.6,727.3 L1034.8,717.2 L1037.2,717.2 L1039.4,707.1 L1042.7,707.1 L1044.9,697.0 L1076.0,697.0" fill="none" stroke="#0000ff" stroke-width="7.5" stroke-linejoin="round"/>
<rect x="633.2" y="490.9" width="445.8" height="381.3" fill="none" stroke="#000" stroke-width="5.5" stroke-linejoin="round"/>
<line x1="635.7" y1="872.2" x2="635.7" y2="879.9" stroke="#000" stroke-width="5" stroke-linecap="round"/>
<text transform="translate(635.70,911.00) scale(1,1.040)" font-size="25.00" text-anchor="middle">0</text>
<line x1="745.4" y1="872.2" x2="745.4" y2="879.9" stroke="#000" stroke-width="5" stroke-linecap="round"/>
<text transform="translate(745.40,911.00) scale(1,1.040)" font-size="25.00" text-anchor="middle">50</text>
<line x1="855.1" y1="872.2" x2="855.1" y2="879.9" stroke="#000" stroke-width="5" stroke-linecap="round"/>
<text transform="translate(855.10,911.00) scale(1,1.040)" font-size="25.00" text-anchor="middle">100</text>
<line x1="964.8" y1="872.2" x2="964.8" y2="879.9" stroke="#000" stroke-width="5" stroke-linecap="round"/>
<text transform="translate(964.80,911.00) scale(1,1.040)" font-size="25.00" text-anchor="middle">150</text>
<line x1="1074.5" y1="872.2" x2="1074.5" y2="879.9" stroke="#000" stroke-width="5" stroke-linecap="round"/>
<text transform="translate(1074.50,911.00) scale(1,1.040)" font-size="25.00" text-anchor="middle">200</text>
<line x1="633.2" y1="858.6" x2="626.2" y2="858.6" stroke="#000" stroke-width="5" stroke-linecap="round"/>
<text transform="translate(618.90,858.60) rotate(-90) scale(1,1.040)" font-size="25.00" text-anchor="middle">0</text>
<line x1="633.2" y1="808.1" x2="626.2" y2="808.1" stroke="#000" stroke-width="5" stroke-linecap="round"/>
<text transform="translate(618.90,808.11) rotate(-90) scale(1,1.040)" font-size="25.00" text-anchor="middle">1</text>
<line x1="633.2" y1="757.6" x2="626.2" y2="757.6" stroke="#000" stroke-width="5" stroke-linecap="round"/>
<text transform="translate(618.90,757.62) rotate(-90) scale(1,1.040)" font-size="25.00" text-anchor="middle">2</text>
<line x1="633.2" y1="707.1" x2="626.2" y2="707.1" stroke="#000" stroke-width="5" stroke-linecap="round"/>
<text transform="translate(618.90,707.13) rotate(-90) scale(1,1.040)" font-size="25.00" text-anchor="middle">3</text>
<line x1="633.2" y1="656.6" x2="626.2" y2="656.6" stroke="#000" stroke-width="5" stroke-linecap="round"/>
<text transform="translate(618.90,656.64) rotate(-90) scale(1,1.040)" font-size="25.00" text-anchor="middle">4</text>
<line x1="633.2" y1="606.1" x2="626.2" y2="606.1" stroke="#000" stroke-width="5" stroke-linecap="round"/>
<text transform="translate(618.90,606.15) rotate(-90) scale(1,1.040)" font-size="25.00" text-anchor="middle">5</text>
<line x1="633.2" y1="555.7" x2="626.2" y2="555.7" stroke="#000" stroke-width="5" stroke-linecap="round"/>
<text transform="translate(618.90,555.66) rotate(-90) scale(1,1.040)" font-size="25.00" text-anchor="middle">6</text>
<line x1="633.2" y1="505.2" x2="626.2" y2="505.2" stroke="#000" stroke-width="5" stroke-linecap="round"/>
<text transform="translate(618.90,505.17) rotate(-90) scale(1,1.040)" font-size="25.00" text-anchor="middle">7</text>
<text transform="translate(856.10,945.40) scale(1,1.040)" font-size="32.70" text-anchor="middle">Window Size (KB)</text>
<text transform="translate(585.40,682.30) rotate(-90) scale(1,1.040)" font-size="32.90" text-anchor="middle">GWAS Overlap (%)</text>
<text transform="translate(558.00,937.30) scale(1,1.040)" font-size="44.30">(E)</text>
<rect x="644.9" y="503.6" width="232.3" height="114.4" fill="#fff" stroke="#000" stroke-width="3.5"/>
<text transform="translate(763.00,527.00) scale(1,1.040)" font-size="19.20" text-anchor="middle">PP vs NN (Skin)</text>
<line x1="662.7" y1="542.2" x2="676.2" y2="542.2" stroke="#ff0000" stroke-width="6.0" stroke-linecap="round"/>
<text transform="translate(694.70,549.30) scale(1,1.040)" font-size="19.20">Top 500 Increased</text>
<line x1="662.7" y1="560.7" x2="676.2" y2="560.7" stroke="#0000ff" stroke-width="6.0" stroke-linecap="round"/>
<text transform="translate(694.70,567.80) scale(1,1.040)" font-size="19.20">Top 500 Decreased</text>
<line x1="662.7" y1="579.2" x2="676.2" y2="579.2" stroke="#000000" stroke-width="6.0" stroke-linecap="round"/>
<text transform="translate(694.70,586.30) scale(1,1.040)" font-size="19.20">Other genes</text>
<line x1="662.7" y1="597.7" x2="676.2" y2="597.7" stroke="#e8ee00" stroke-width="9.5" stroke-linecap="round"/>
<text transform="translate(694.70,604.80) scale(1,1.040)" font-size="19.20">P &lt; 0.05</text>
</g>
<g>
<path d="M1186.6,844.5 L1191.7,843.6 L1198.9,841.1 L1202.0,840.5 L1205.9,838.5 L1211.6,837.4 L1217.2,834.0 L1223.5,833.0 L1232.6,829.7 L1237.5,829.5 L1242.7,828.7 L1247.5,828.1 L1256.3,826.1 L1260.6,825.8 L1267.8,824.7 L1271.4,823.8 L1274.0,820.9 L1279.6,820.3 L1282.8,818.3 L1290.9,817.8 L1295.4,816.3 L1299.2,815.5 L1304.8,813.0 L1314.0,812.1 L1320.0,809.3 L1326.6,808.1 L1331.1,804.5 L1337.5,803.2 L1345.5,799.2 L1347.8,799.1 L1351.8,799.1 L1356.6,798.4 L1360.2,796.2 L1364.5,795.6 L1367.7,793.7 L1370.4,793.3 L1375.1,792.1 L1381.2,791.6 L1386.6,790.1 L1389.6,789.1 L1394.2,786.0 L1399.6,784.9 L1405.1,781.9 L1410.7,780.5 L1418.4,776.4 L1425.4,775.7 L1429.9,773.5 L1434.6,773.1 L1437.2,771.9 L1442.9,770.8 L1449.6,767.5 L1458.5,767.1 L1464.9,766.1 L1471.3,765.2 L1475.1,762.3 L1483.6,761.2 L1490.4,757.9 L1494.7,757.7 L1497.8,756.9 L1502.2,756.5 L1507.3,755.0 L1515.3,754.3 L1519.9,752.2 L1527.4,751.7 L1533.3,750.3 L1541.1,749.2 L1548.4,746.0 L1552.6,745.3 L1560.3,743.3 L1568.4,742.4 L1573.8,739.8 L1578.9,738.6 L1584.2,735.0 L1593.2,734.3 L1598.6,732.3 L1604.6,731.6 L1608.0,729.5 L1616.1,729.1 L1622.8,727.8 L1624.4,727.8 L1625.4,727.8 L1626.9,727.8" fill="none" stroke="#000000" stroke-width="8" stroke-linejoin="round"/>
<rect x="1249.9" y="798.5" width="5.1" height="5.0" fill="#e8ee00"/>
<rect x="1255.9" y="812.7" width="4.1" height="5.0" fill="#e8ee00"/>
<rect x="1258.7" y="788.4" width="4.0" height="5.0" fill="#e8ee00"/>
<rect x="1264.7" y="802.6" width="3.0" height="5.0" fill="#e8ee00"/>
<rect x="1268.6" y="768.2" width="1.1" height="5.0" fill="#e8ee00"/>
<rect x="1274.6" y="782.4" width="0.1" height="5.0" fill="#e8ee00"/>
<rect x="1273.4" y="758.1" width="20.0" height="5.0" fill="#e8ee00"/>
<rect x="1279.4" y="772.3" width="19.0" height="5.0" fill="#e8ee00"/>
<rect x="1297.1" y="748.0" width="47.9" height="5.0" fill="#e8ee00"/>
<rect x="1303.1" y="762.2" width="46.9" height="5.0" fill="#e8ee00"/>
<rect x="1348.6" y="737.9" width="22.9" height="5.0" fill="#e8ee00"/>
<rect x="1354.6" y="752.1" width="21.9" height="5.0" fill="#e8ee00"/>
<rect x="1375.2" y="727.8" width="29.2" height="5.0" fill="#e8ee00"/>
<rect x="1381.2" y="742.0" width="28.2" height="5.0" fill="#e8ee00"/>
<rect x="1408.1" y="717.7" width="53.3" height="5.0" fill="#e8ee00"/>
<rect x="1414.1" y="731.9" width="52.3" height="5.0" fill="#e8ee00"/>
<rect x="1467.1" y="697.5" width="12.5" height="5.0" fill="#e8ee00"/>
<rect x="1473.1" y="711.7" width="11.5" height="5.0" fill="#e8ee00"/>
<rect x="1485.3" y="677.3" width="101.6" height="5.0" fill="#e8ee00"/>
<rect x="1491.3" y="691.5" width="100.6" height="5.0" fill="#e8ee00"/>
<rect x="1592.6" y="657.1" width="32.8" height="5.0" fill="#e8ee00"/>
<rect x="1598.6" y="671.3" width="26.8" height="5.0" fill="#e8ee00"/>
<path d="M1186.6,858.6 L1362.8,858.6 L1365.0,848.5 L1365.0,848.5 L1367.2,838.4 L1400.5,838.4 L1402.7,828.3 L1401.6,828.3 L1403.8,818.2 L1403.8,818.2 L1406.0,808.1 L1426.4,808.1 L1428.6,798.0 L1528.2,798.0 L1530.4,787.9 L1626.9,787.9" fill="none" stroke="#ff0000" stroke-width="7.5" stroke-linejoin="round"/>
<path d="M1186.6,838.4 L1202.4,838.4 L1204.6,828.3 L1215.1,828.3 L1217.3,818.2 L1245.6,818.2 L1247.8,808.1 L1259.0,808.1 L1261.2,798.0 L1266.7,798.0 L1268.9,787.9 L1268.9,787.9 L1271.1,777.8 L1273.7,777.8 L1275.9,767.7 L1297.4,767.7 L1299.6,757.6 L1349.0,757.6 L1351.1,747.5 L1375.5,747.5 L1377.7,737.4 L1408.4,737.4 L1410.6,727.3 L1465.5,727.3 L1467.7,717.2 L1467.4,717.2 L1469.6,707.1 L1483.7,707.1 L1485.9,697.0 L1485.6,697.0 L1487.8,686.9 L1591.0,686.9 L1593.1,676.8 L1592.9,676.8 L1595.1,666.7 L1626.9,666.7" fill="none" stroke="#0000ff" stroke-width="7.5" stroke-linejoin="round"/>
<rect x="1184.1" y="490.9" width="445.8" height="381.3" fill="none" stroke="#000" stroke-width="5.5" stroke-linejoin="round"/>
<line x1="1186.6" y1="872.2" x2="1186.6" y2="879.9" stroke="#000" stroke-width="5" stroke-linecap="round"/>
<text transform="translate(1186.60,911.00) scale(1,1.040)" font-size="25.00" text-anchor="middle">0</text>
<line x1="1296.3" y1="872.2" x2="1296.3" y2="879.9" stroke="#000" stroke-width="5" stroke-linecap="round"/>
<text transform="translate(1296.30,911.00) scale(1,1.040)" font-size="25.00" text-anchor="middle">50</text>
<line x1="1406.0" y1="872.2" x2="1406.0" y2="879.9" stroke="#000" stroke-width="5" stroke-linecap="round"/>
<text transform="translate(1406.00,911.00) scale(1,1.040)" font-size="25.00" text-anchor="middle">100</text>
<line x1="1515.7" y1="872.2" x2="1515.7" y2="879.9" stroke="#000" stroke-width="5" stroke-linecap="round"/>
<text transform="translate(1515.70,911.00) scale(1,1.040)" font-size="25.00" text-anchor="middle">150</text>
<line x1="1625.4" y1="872.2" x2="1625.4" y2="879.9" stroke="#000" stroke-width="5" stroke-linecap="round"/>
<text transform="translate(1625.40,911.00) scale(1,1.040)" font-size="25.00" text-anchor="middle">200</text>
<line x1="1184.1" y1="858.6" x2="1177.1" y2="858.6" stroke="#000" stroke-width="5" stroke-linecap="round"/>
<text transform="translate(1169.80,858.60) rotate(-90) scale(1,1.040)" font-size="25.00" text-anchor="middle">0</text>
<line x1="1184.1" y1="808.1" x2="1177.1" y2="808.1" stroke="#000" stroke-width="5" stroke-linecap="round"/>
<text transform="translate(1169.80,808.11) rotate(-90) scale(1,1.040)" font-size="25.00" text-anchor="middle">1</text>
<line x1="1184.1" y1="757.6" x2="1177.1" y2="757.6" stroke="#000" stroke-width="5" stroke-linecap="round"/>
<text transform="translate(1169.80,757.62) rotate(-90) scale(1,1.040)" font-size="25.00" text-anchor="middle">2</text>
<line x1="1184.1" y1="707.1" x2="1177.1" y2="707.1" stroke="#000" stroke-width="5" stroke-linecap="round"/>
<text transform="translate(1169.80,707.13) rotate(-90) scale(1,1.040)" font-size="25.00" text-anchor="middle">3</text>
<line x1="1184.1" y1="656.6" x2="1177.1" y2="656.6" stroke="#000" stroke-width="5" stroke-linecap="round"/>
<text transform="translate(1169.80,656.64) rotate(-90) scale(1,1.040)" font-size="25.00" text-anchor="middle">4</text>
<line x1="1184.1" y1="606.1" x2="1177.1" y2="606.1" stroke="#000" stroke-width="5" stroke-linecap="round"/>
<text transform="translate(1169.80,606.15) rotate(-90) scale(1,1.040)" font-size="25.00" text-anchor="middle">5</text>
<line x1="1184.1" y1="555.7" x2="1177.1" y2="555.7" stroke="#000" stroke-width="5" stroke-linecap="round"/>
<text transform="translate(1169.80,555.66) rotate(-90) scale(1,1.040)" font-size="25.00" text-anchor="middle">6</text>
<line x1="1184.1" y1="505.2" x2="1177.1" y2="505.2" stroke="#000" stroke-width="5" stroke-linecap="round"/>
<text transform="translate(1169.80,505.17) rotate(-90) scale(1,1.040)" font-size="25.00" text-anchor="middle">7</text>
<text transform="translate(1407.00,945.40) scale(1,1.040)" font-size="32.70" text-anchor="middle">Window Size (KB)</text>
<text transform="translate(1136.30,682.30) rotate(-90) scale(1,1.040)" font-size="32.90" text-anchor="middle">GWAS Overlap (%)</text>
<text transform="translate(1108.90,937.30) scale(1,1.040)" font-size="44.30">(F)</text>
<rect x="1195.8" y="503.6" width="232.3" height="114.4" fill="#fff" stroke="#000" stroke-width="3.5"/>
<text transform="translate(1313.90,527.00) scale(1,1.040)" font-size="19.20" text-anchor="middle">PN vs NN (Skin)</text>
<line x1="1213.6" y1="542.2" x2="1227.1" y2="542.2" stroke="#ff0000" stroke-width="6.0" stroke-linecap="round"/>
<text transform="translate(1245.60,549.30) scale(1,1.040)" font-size="19.20">Top 500 Increased</text>
<line x1="1213.6" y1="560.7" x2="1227.1" y2="560.7" stroke="#0000ff" stroke-width="6.0" stroke-linecap="round"/>
<text transform="translate(1245.60,567.80) scale(1,1.040)" font-size="19.20">Top 500 Decreased</text>
<line x1="1213.6" y1="579.2" x2="1227.1" y2="579.2" stroke="#000000" stroke-width="6.0" stroke-linecap="round"/>
<text transform="translate(1245.60,586.30) scale(1,1.040)" font-size="19.20">Other genes</text>
<line x1="1213.6" y1="597.7" x2="1227.1" y2="597.7" stroke="#e8ee00" stroke-width="9.5" stroke-linecap="round"/>
<text transform="translate(1245.60,604.80) scale(1,1.040)" font-size="19.20">P &lt; 0.05</text>
</g>
<line x1="366.8" y1="996.7" x2="577.2" y2="996.7" stroke="#6a6a6a" stroke-width="1.5" stroke-dasharray="1.5 2.38"/>
<line x1="598.8" y1="996.7" x2="803.5" y2="996.7" stroke="#6a6a6a" stroke-width="1.5" stroke-dasharray="1.5 2.38"/>
<line x1="366.8" y1="1028.5" x2="577.2" y2="1028.5" stroke="#6a6a6a" stroke-width="1.5" stroke-dasharray="1.5 2.38"/>
<line x1="598.8" y1="1028.5" x2="803.5" y2="1028.5" stroke="#6a6a6a" stroke-width="1.5" stroke-dasharray="1.5 2.38"/>
<line x1="366.8" y1="1060.3" x2="577.2" y2="1060.3" stroke="#6a6a6a" stroke-width="1.5" stroke-dasharray="1.5 2.38"/>
<line x1="598.8" y1="1060.3" x2="803.5" y2="1060.3" stroke="#6a6a6a" stroke-width="1.5" stroke-dasharray="1.5 2.38"/>
<line x1="366.8" y1="1092.0" x2="577.2" y2="1092.0" stroke="#6a6a6a" stroke-width="1.5" stroke-dasharray="1.5 2.38"/>
<line x1="598.8" y1="1092.0" x2="803.5" y2="1092.0" stroke="#6a6a6a" stroke-width="1.5" stroke-dasharray="1.5 2.38"/>
<line x1="366.8" y1="1123.8" x2="577.2" y2="1123.8" stroke="#6a6a6a" stroke-width="1.5" stroke-dasharray="1.5 2.38"/>
<line x1="598.8" y1="1123.8" x2="803.5" y2="1123.8" stroke="#6a6a6a" stroke-width="1.5" stroke-dasharray="1.5 2.38"/>
<line x1="366.8" y1="1155.6" x2="577.2" y2="1155.6" stroke="#6a6a6a" stroke-width="1.5" stroke-dasharray="1.5 2.38"/>
<line x1="598.8" y1="1155.6" x2="803.5" y2="1155.6" stroke="#6a6a6a" stroke-width="1.5" stroke-dasharray="1.5 2.38"/>
<line x1="366.8" y1="1187.4" x2="577.2" y2="1187.4" stroke="#6a6a6a" stroke-width="1.5" stroke-dasharray="1.5 2.38"/>
<line x1="598.8" y1="1187.4" x2="803.5" y2="1187.4" stroke="#6a6a6a" stroke-width="1.5" stroke-dasharray="1.5 2.38"/>
<line x1="366.8" y1="1219.2" x2="577.2" y2="1219.2" stroke="#6a6a6a" stroke-width="1.5" stroke-dasharray="1.5 2.38"/>
<line x1="598.8" y1="1219.2" x2="803.5" y2="1219.2" stroke="#6a6a6a" stroke-width="1.5" stroke-dasharray="1.5 2.38"/>
<line x1="366.8" y1="1250.9" x2="577.2" y2="1250.9" stroke="#6a6a6a" stroke-width="1.5" stroke-dasharray="1.5 2.38"/>
<line x1="598.8" y1="1250.9" x2="803.5" y2="1250.9" stroke="#6a6a6a" stroke-width="1.5" stroke-dasharray="1.5 2.38"/>
<line x1="366.8" y1="1282.7" x2="577.2" y2="1282.7" stroke="#6a6a6a" stroke-width="1.5" stroke-dasharray="1.5 2.38"/>
<line x1="598.8" y1="1282.7" x2="803.5" y2="1282.7" stroke="#6a6a6a" stroke-width="1.5" stroke-dasharray="1.5 2.38"/>
<line x1="366.8" y1="1314.5" x2="577.2" y2="1314.5" stroke="#6a6a6a" stroke-width="1.5" stroke-dasharray="1.5 2.38"/>
<line x1="598.8" y1="1314.5" x2="803.5" y2="1314.5" stroke="#6a6a6a" stroke-width="1.5" stroke-dasharray="1.5 2.38"/>
<line x1="366.8" y1="1346.3" x2="577.2" y2="1346.3" stroke="#6a6a6a" stroke-width="1.5" stroke-dasharray="1.5 2.38"/>
<line x1="598.8" y1="1346.3" x2="803.5" y2="1346.3" stroke="#6a6a6a" stroke-width="1.5" stroke-dasharray="1.5 2.38"/>
<rect x="364.0" y="1046.1" width="32.5" height="28.4" fill="#000" rx="0.8"/>
<rect x="364.0" y="1077.8" width="57.0" height="28.4" fill="#000" rx="0.8"/>
<rect x="364.0" y="1109.6" width="136.5" height="28.4" fill="#000" rx="0.8"/>
<rect x="364.0" y="1141.4" width="153.3" height="28.4" fill="#000" rx="0.8"/>
<rect x="364.0" y="1173.2" width="165.6" height="28.4" fill="#000" rx="0.8"/>
<rect x="364.0" y="1205.0" width="178.7" height="28.4" fill="#000" rx="0.8"/>
<rect x="364.0" y="1236.7" width="187.9" height="28.4" fill="#000" rx="0.8"/>
<rect x="364.0" y="1268.5" width="200.8" height="28.4" fill="#000" rx="0.8"/>
<rect x="364.0" y="1300.3" width="202.8" height="28.4" fill="#000" rx="0.8"/>
<rect x="364.0" y="1332.1" width="209.6" height="28.4" fill="#000" rx="0.8"/>
<rect x="624.8" y="982.7" width="181.5" height="28.0" fill="#000" rx="1.5"/>
<rect x="627.8" y="985.7" width="178.5" height="22.0" fill="#0000ff"/>
<rect x="762.0" y="1014.5" width="44.3" height="28.0" fill="#000" rx="1.5"/>
<rect x="654.1" y="1046.3" width="152.2" height="28.0" fill="#000" rx="1.5"/>
<rect x="657.1" y="1049.3" width="149.2" height="22.0" fill="#0000ff"/>
<rect x="682.6" y="1078.0" width="123.7" height="28.0" fill="#000" rx="1.5"/>
<rect x="685.6" y="1081.0" width="120.7" height="22.0" fill="#0000ff"/>
<rect x="664.3" y="1109.8" width="142.0" height="28.0" fill="#000" rx="1.5"/>
<rect x="667.3" y="1112.8" width="139.0" height="22.0" fill="#0000ff"/>
<rect x="620.7" y="1141.6" width="185.6" height="28.0" fill="#000" rx="1.5"/>
<rect x="623.7" y="1144.6" width="182.6" height="22.0" fill="#0000ff"/>
<rect x="684.2" y="1173.4" width="122.1" height="28.0" fill="#000" rx="1.5"/>
<rect x="687.2" y="1176.4" width="119.1" height="22.0" fill="#0000ff"/>
<rect x="756.3" y="1205.2" width="50.0" height="28.0" fill="#000" rx="1.5"/>
<rect x="601.9" y="1236.9" width="204.4" height="28.0" fill="#000" rx="1.5"/>
<rect x="604.9" y="1239.9" width="201.4" height="22.0" fill="#0000ff"/>
<rect x="730.3" y="1268.7" width="76.0" height="28.0" fill="#000" rx="1.5"/>
<rect x="765.1" y="1300.5" width="41.2" height="28.0" fill="#000" rx="1.5"/>
<rect x="637.1" y="1332.3" width="169.2" height="28.0" fill="#000" rx="1.5"/>
<rect x="640.1" y="1335.3" width="166.2" height="22.0" fill="#0000ff"/>
<rect x="364.0" y="976.2" width="216.0" height="390.0" fill="none" stroke="#000" stroke-width="5.5" stroke-linejoin="round"/>
<rect x="596.0" y="976.2" width="210.3" height="390.0" fill="none" stroke="#000" stroke-width="5.5" stroke-linejoin="round"/>
<line x1="363.6" y1="1366.2" x2="363.6" y2="1376.2" stroke="#000" stroke-width="5" stroke-linecap="round"/>
<text transform="translate(363.60,1401.40) scale(1,1.040)" font-size="25.00" text-anchor="middle">0</text>
<line x1="404.3" y1="1366.2" x2="404.3" y2="1376.2" stroke="#000" stroke-width="5" stroke-linecap="round"/>
<line x1="445.0" y1="1366.2" x2="445.0" y2="1376.2" stroke="#000" stroke-width="5" stroke-linecap="round"/>
<text transform="translate(445.00,1401.40) scale(1,1.040)" font-size="25.00" text-anchor="middle">20</text>
<line x1="485.7" y1="1366.2" x2="485.7" y2="1376.2" stroke="#000" stroke-width="5" stroke-linecap="round"/>
<line x1="526.4" y1="1366.2" x2="526.4" y2="1376.2" stroke="#000" stroke-width="5" stroke-linecap="round"/>
<text transform="translate(526.40,1401.40) scale(1,1.040)" font-size="25.00" text-anchor="middle">40</text>
<line x1="567.1" y1="1366.2" x2="567.1" y2="1376.2" stroke="#000" stroke-width="5" stroke-linecap="round"/>
<text transform="translate(472.00,1432.20) scale(1,1.040)" font-size="32.40" text-anchor="middle">Distance (KB)</text>
<line x1="806.5" y1="1366.2" x2="806.5" y2="1376.2" stroke="#000" stroke-width="5" stroke-linecap="round"/>
<line x1="777.6" y1="1366.2" x2="777.6" y2="1376.2" stroke="#000" stroke-width="5" stroke-linecap="round"/>
<text transform="translate(777.60,1401.40) scale(1,1.040)" font-size="25.00" text-anchor="middle">0.71</text>
<line x1="748.7" y1="1366.2" x2="748.7" y2="1376.2" stroke="#000" stroke-width="5" stroke-linecap="round"/>
<line x1="719.8" y1="1366.2" x2="719.8" y2="1376.2" stroke="#000" stroke-width="5" stroke-linecap="round"/>
<line x1="690.9" y1="1366.2" x2="690.9" y2="1376.2" stroke="#000" stroke-width="5" stroke-linecap="round"/>
<text transform="translate(690.90,1401.40) scale(1,1.040)" font-size="25.00" text-anchor="middle">0.25</text>
<line x1="662.0" y1="1366.2" x2="662.0" y2="1376.2" stroke="#000" stroke-width="5" stroke-linecap="round"/>
<line x1="633.1" y1="1366.2" x2="633.1" y2="1376.2" stroke="#000" stroke-width="5" stroke-linecap="round"/>
<line x1="604.2" y1="1366.2" x2="604.2" y2="1376.2" stroke="#000" stroke-width="5" stroke-linecap="round"/>
<text transform="translate(604.20,1401.40) scale(1,1.040)" font-size="25.00" text-anchor="middle">0.09</text>
<text transform="translate(701.15,1432.20) scale(1,1.040)" font-size="32.40" text-anchor="middle">PP/NN (KC)</text>
<text transform="translate(352.00,1006.30) scale(1,1.040)" font-size="25.40" text-anchor="end">CARD14 (chr17, 78178893)</text>
<text transform="translate(352.00,1038.08) scale(1,1.040)" font-size="25.40" text-anchor="end">SERPINB8 (chr18, 61656785)</text>
<text transform="translate(352.00,1069.86) scale(1,1.040)" font-size="25.40" text-anchor="end">OVOL1 (chr11, 65546857)</text>
<text transform="translate(352.00,1101.64) scale(1,1.040)" font-size="25.40" text-anchor="end">AIM1L (chr1, 26694260)</text>
<text transform="translate(352.00,1133.42) scale(1,1.040)" font-size="25.40" text-anchor="end">GJB6 (chr13, 20762956)</text>
<text transform="translate(352.00,1165.20) scale(1,1.040)" font-size="25.40" text-anchor="end">LCE3D (chr1, 152590187)</text>
<text transform="translate(352.00,1196.98) scale(1,1.040)" font-size="25.40" text-anchor="end">CSTA (chr3, 122003769)</text>
<text transform="translate(352.00,1228.76) scale(1,1.040)" font-size="25.40" text-anchor="end">SYNGR2 (chr17, 76121318)</text>
<text transform="translate(352.00,1260.54) scale(1,1.040)" font-size="25.40" text-anchor="end">LCE2D (chr1, 152590187)</text>
<text transform="translate(352.00,1292.32) scale(1,1.040)" font-size="25.40" text-anchor="end">IL22RA1 (chr1, 24518643)</text>
<text transform="translate(352.00,1324.10) scale(1,1.040)" font-size="25.40" text-anchor="end">ATP6V0A1 (chr17, 40561579)</text>
<text transform="translate(352.00,1355.88) scale(1,1.040)" font-size="25.40" text-anchor="end">LCE3E (chr1, 152590187)</text>
<text transform="translate(10.90,1422.40) scale(1,1.040)" font-size="44.30">(G)</text>
<line x1="1164.6" y1="995.2" x2="1387.9" y2="995.2" stroke="#6a6a6a" stroke-width="1.5" stroke-dasharray="1.5 2.38"/>
<line x1="1409.2" y1="995.2" x2="1626.7" y2="995.2" stroke="#6a6a6a" stroke-width="1.5" stroke-dasharray="1.5 2.38"/>
<line x1="1164.6" y1="1027.0" x2="1387.9" y2="1027.0" stroke="#6a6a6a" stroke-width="1.5" stroke-dasharray="1.5 2.38"/>
<line x1="1409.2" y1="1027.0" x2="1626.7" y2="1027.0" stroke="#6a6a6a" stroke-width="1.5" stroke-dasharray="1.5 2.38"/>
<line x1="1164.6" y1="1058.8" x2="1387.9" y2="1058.8" stroke="#6a6a6a" stroke-width="1.5" stroke-dasharray="1.5 2.38"/>
<line x1="1409.2" y1="1058.8" x2="1626.7" y2="1058.8" stroke="#6a6a6a" stroke-width="1.5" stroke-dasharray="1.5 2.38"/>
<line x1="1164.6" y1="1090.5" x2="1387.9" y2="1090.5" stroke="#6a6a6a" stroke-width="1.5" stroke-dasharray="1.5 2.38"/>
<line x1="1409.2" y1="1090.5" x2="1626.7" y2="1090.5" stroke="#6a6a6a" stroke-width="1.5" stroke-dasharray="1.5 2.38"/>
<line x1="1164.6" y1="1122.3" x2="1387.9" y2="1122.3" stroke="#6a6a6a" stroke-width="1.5" stroke-dasharray="1.5 2.38"/>
<line x1="1409.2" y1="1122.3" x2="1626.7" y2="1122.3" stroke="#6a6a6a" stroke-width="1.5" stroke-dasharray="1.5 2.38"/>
<line x1="1164.6" y1="1154.1" x2="1387.9" y2="1154.1" stroke="#6a6a6a" stroke-width="1.5" stroke-dasharray="1.5 2.38"/>
<line x1="1409.2" y1="1154.1" x2="1626.7" y2="1154.1" stroke="#6a6a6a" stroke-width="1.5" stroke-dasharray="1.5 2.38"/>
<line x1="1164.6" y1="1185.9" x2="1387.9" y2="1185.9" stroke="#6a6a6a" stroke-width="1.5" stroke-dasharray="1.5 2.38"/>
<line x1="1409.2" y1="1185.9" x2="1626.7" y2="1185.9" stroke="#6a6a6a" stroke-width="1.5" stroke-dasharray="1.5 2.38"/>
<line x1="1164.6" y1="1217.7" x2="1387.9" y2="1217.7" stroke="#6a6a6a" stroke-width="1.5" stroke-dasharray="1.5 2.38"/>
<line x1="1409.2" y1="1217.7" x2="1626.7" y2="1217.7" stroke="#6a6a6a" stroke-width="1.5" stroke-dasharray="1.5 2.38"/>
<line x1="1164.6" y1="1249.4" x2="1387.9" y2="1249.4" stroke="#6a6a6a" stroke-width="1.5" stroke-dasharray="1.5 2.38"/>
<line x1="1409.2" y1="1249.4" x2="1626.7" y2="1249.4" stroke="#6a6a6a" stroke-width="1.5" stroke-dasharray="1.5 2.38"/>
<line x1="1164.6" y1="1281.2" x2="1387.9" y2="1281.2" stroke="#6a6a6a" stroke-width="1.5" stroke-dasharray="1.5 2.38"/>
<line x1="1409.2" y1="1281.2" x2="1626.7" y2="1281.2" stroke="#6a6a6a" stroke-width="1.5" stroke-dasharray="1.5 2.38"/>
<line x1="1164.6" y1="1313.0" x2="1387.9" y2="1313.0" stroke="#6a6a6a" stroke-width="1.5" stroke-dasharray="1.5 2.38"/>
<line x1="1409.2" y1="1313.0" x2="1626.7" y2="1313.0" stroke="#6a6a6a" stroke-width="1.5" stroke-dasharray="1.5 2.38"/>
<line x1="1164.6" y1="1344.8" x2="1387.9" y2="1344.8" stroke="#6a6a6a" stroke-width="1.5" stroke-dasharray="1.5 2.38"/>
<line x1="1409.2" y1="1344.8" x2="1626.7" y2="1344.8" stroke="#6a6a6a" stroke-width="1.5" stroke-dasharray="1.5 2.38"/>
<rect x="1161.8" y="1044.6" width="19.9" height="28.4" fill="#000" rx="0.8"/>
<rect x="1161.8" y="1076.3" width="34.4" height="28.4" fill="#000" rx="0.8"/>
<rect x="1161.8" y="1108.1" width="59.8" height="28.4" fill="#000" rx="0.8"/>
<rect x="1161.8" y="1139.9" width="144.8" height="28.4" fill="#000" rx="0.8"/>
<rect x="1161.8" y="1171.7" width="161.9" height="28.4" fill="#000" rx="0.8"/>
<rect x="1161.8" y="1203.5" width="175.1" height="28.4" fill="#000" rx="0.8"/>
<rect x="1161.8" y="1235.2" width="188.7" height="28.4" fill="#000" rx="0.8"/>
<rect x="1161.8" y="1267.0" width="198.8" height="28.4" fill="#000" rx="0.8"/>
<rect x="1161.8" y="1298.8" width="212.9" height="28.4" fill="#000" rx="0.8"/>
<rect x="1161.8" y="1330.6" width="221.7" height="28.4" fill="#000" rx="0.8"/>
<rect x="1454.7" y="981.2" width="174.8" height="28.0" fill="#000" rx="1.5"/>
<rect x="1457.7" y="984.2" width="171.8" height="22.0" fill="#0000ff"/>
<rect x="1532.1" y="1013.0" width="97.4" height="28.0" fill="#000" rx="1.5"/>
<rect x="1535.1" y="1016.0" width="94.4" height="22.0" fill="#0000ff"/>
<rect x="1555.2" y="1044.8" width="74.3" height="28.0" fill="#000" rx="1.5"/>
<rect x="1470.2" y="1076.5" width="159.3" height="28.0" fill="#000" rx="1.5"/>
<rect x="1473.2" y="1079.5" width="156.3" height="22.0" fill="#0000ff"/>
<rect x="1514.1" y="1108.3" width="115.4" height="28.0" fill="#000" rx="1.5"/>
<rect x="1517.1" y="1111.3" width="112.4" height="22.0" fill="#0000ff"/>
<rect x="1438.2" y="1140.1" width="191.3" height="28.0" fill="#000" rx="1.5"/>
<rect x="1441.2" y="1143.1" width="188.3" height="22.0" fill="#0000ff"/>
<rect x="1424.1" y="1171.9" width="205.4" height="28.0" fill="#000" rx="1.5"/>
<rect x="1427.1" y="1174.9" width="202.4" height="22.0" fill="#0000ff"/>
<rect x="1523.4" y="1203.7" width="106.1" height="28.0" fill="#000" rx="1.5"/>
<rect x="1526.4" y="1206.7" width="103.1" height="22.0" fill="#0000ff"/>
<rect x="1574.4" y="1235.4" width="55.1" height="28.0" fill="#000" rx="1.5"/>
<rect x="1413.0" y="1267.2" width="216.5" height="28.0" fill="#000" rx="1.5"/>
<rect x="1416.0" y="1270.2" width="213.5" height="22.0" fill="#0000ff"/>
<rect x="1547.1" y="1299.0" width="82.4" height="28.0" fill="#000" rx="1.5"/>
<rect x="1435.5" y="1330.8" width="194.0" height="28.0" fill="#000" rx="1.5"/>
<rect x="1438.5" y="1333.8" width="191.0" height="22.0" fill="#0000ff"/>
<rect x="1161.8" y="974.7" width="228.9" height="390.0" fill="none" stroke="#000" stroke-width="5.5" stroke-linejoin="round"/>
<rect x="1406.4" y="974.7" width="223.1" height="390.0" fill="none" stroke="#000" stroke-width="5.5" stroke-linejoin="round"/>
<line x1="1161.3" y1="1364.7" x2="1161.3" y2="1374.7" stroke="#000" stroke-width="5" stroke-linecap="round"/>
<text transform="translate(1161.30,1399.90) scale(1,1.040)" font-size="25.00" text-anchor="middle">0</text>
<line x1="1204.6" y1="1364.7" x2="1204.6" y2="1374.7" stroke="#000" stroke-width="5" stroke-linecap="round"/>
<line x1="1248.0" y1="1364.7" x2="1248.0" y2="1374.7" stroke="#000" stroke-width="5" stroke-linecap="round"/>
<text transform="translate(1247.96,1399.90) scale(1,1.040)" font-size="25.00" text-anchor="middle">20</text>
<line x1="1291.3" y1="1364.7" x2="1291.3" y2="1374.7" stroke="#000" stroke-width="5" stroke-linecap="round"/>
<line x1="1334.6" y1="1364.7" x2="1334.6" y2="1374.7" stroke="#000" stroke-width="5" stroke-linecap="round"/>
<text transform="translate(1334.62,1399.90) scale(1,1.040)" font-size="25.00" text-anchor="middle">40</text>
<line x1="1377.9" y1="1364.7" x2="1377.9" y2="1374.7" stroke="#000" stroke-width="5" stroke-linecap="round"/>
<text transform="translate(1276.25,1430.70) scale(1,1.040)" font-size="32.40" text-anchor="middle">Distance (KB)</text>
<line x1="1629.5" y1="1364.7" x2="1629.5" y2="1374.7" stroke="#000" stroke-width="5" stroke-linecap="round"/>
<text transform="translate(1629.50,1399.90) scale(1,1.040)" font-size="25.00" text-anchor="middle">1</text>
<line x1="1575.3" y1="1364.7" x2="1575.3" y2="1374.7" stroke="#000" stroke-width="5" stroke-linecap="round"/>
<line x1="1521.1" y1="1364.7" x2="1521.1" y2="1374.7" stroke="#000" stroke-width="5" stroke-linecap="round"/>
<text transform="translate(1521.10,1399.90) scale(1,1.040)" font-size="25.00" text-anchor="middle">0.25</text>
<line x1="1466.9" y1="1364.7" x2="1466.9" y2="1374.7" stroke="#000" stroke-width="5" stroke-linecap="round"/>
<line x1="1412.7" y1="1364.7" x2="1412.7" y2="1374.7" stroke="#000" stroke-width="5" stroke-linecap="round"/>
<text transform="translate(1412.70,1399.90) scale(1,1.040)" font-size="25.00" text-anchor="middle">0.06</text>
<text transform="translate(1517.95,1430.70) scale(1,1.040)" font-size="32.40" text-anchor="middle">PN/NN (KC)</text>
<text transform="translate(1149.80,1004.80) scale(1,1.040)" font-size="25.40" text-anchor="end">CARD14 (chr17, 78178893)</text>
<text transform="translate(1149.80,1036.58) scale(1,1.040)" font-size="25.40" text-anchor="end">GJB2 (chr13, 20762956)</text>
<text transform="translate(1149.80,1068.36) scale(1,1.040)" font-size="25.40" text-anchor="end">HSD3B7 (chr16, 31004812)</text>
<text transform="translate(1149.80,1100.14) scale(1,1.040)" font-size="25.40" text-anchor="end">OVOL1 (chr11, 65546857)</text>
<text transform="translate(1149.80,1131.92) scale(1,1.040)" font-size="25.40" text-anchor="end">AIM1L (chr1, 26694260)</text>
<text transform="translate(1149.80,1163.70) scale(1,1.040)" font-size="25.40" text-anchor="end">GJB6 (chr13, 20762956)</text>
<text transform="translate(1149.80,1195.48) scale(1,1.040)" font-size="25.40" text-anchor="end">LCE3D (chr1, 152590187)</text>
<text transform="translate(1149.80,1227.26) scale(1,1.040)" font-size="25.40" text-anchor="end">CSTA (chr3, 122003769)</text>
<text transform="translate(1149.80,1259.04) scale(1,1.040)" font-size="25.40" text-anchor="end">SYNGR2 (chr17, 76121318)</text>
<text transform="translate(1149.80,1290.82) scale(1,1.040)" font-size="25.40" text-anchor="end">LCE2D (chr1, 152590187)</text>
<text transform="translate(1149.80,1322.60) scale(1,1.040)" font-size="25.40" text-anchor="end">IL22RA1 (chr1, 24518643)</text>
<text transform="translate(1149.80,1354.38) scale(1,1.040)" font-size="25.40" text-anchor="end">LCE3E (chr1, 152590187)</text>
<text transform="translate(833.80,1420.90) scale(1,1.040)" font-size="44.30">(H)</text>
<line x1="341.7" y1="1480.7" x2="564.3" y2="1480.7" stroke="#6a6a6a" stroke-width="1.5" stroke-dasharray="1.5 2.38"/>
<line x1="585.8" y1="1480.7" x2="803.2" y2="1480.7" stroke="#6a6a6a" stroke-width="1.5" stroke-dasharray="1.5 2.38"/>
<line x1="341.7" y1="1512.5" x2="564.3" y2="1512.5" stroke="#6a6a6a" stroke-width="1.5" stroke-dasharray="1.5 2.38"/>
<line x1="585.8" y1="1512.5" x2="803.2" y2="1512.5" stroke="#6a6a6a" stroke-width="1.5" stroke-dasharray="1.5 2.38"/>
<line x1="341.7" y1="1544.3" x2="564.3" y2="1544.3" stroke="#6a6a6a" stroke-width="1.5" stroke-dasharray="1.5 2.38"/>
<line x1="585.8" y1="1544.3" x2="803.2" y2="1544.3" stroke="#6a6a6a" stroke-width="1.5" stroke-dasharray="1.5 2.38"/>
<line x1="341.7" y1="1576.0" x2="564.3" y2="1576.0" stroke="#6a6a6a" stroke-width="1.5" stroke-dasharray="1.5 2.38"/>
<line x1="585.8" y1="1576.0" x2="803.2" y2="1576.0" stroke="#6a6a6a" stroke-width="1.5" stroke-dasharray="1.5 2.38"/>
<line x1="341.7" y1="1607.8" x2="564.3" y2="1607.8" stroke="#6a6a6a" stroke-width="1.5" stroke-dasharray="1.5 2.38"/>
<line x1="585.8" y1="1607.8" x2="803.2" y2="1607.8" stroke="#6a6a6a" stroke-width="1.5" stroke-dasharray="1.5 2.38"/>
<line x1="341.7" y1="1639.6" x2="564.3" y2="1639.6" stroke="#6a6a6a" stroke-width="1.5" stroke-dasharray="1.5 2.38"/>
<line x1="585.8" y1="1639.6" x2="803.2" y2="1639.6" stroke="#6a6a6a" stroke-width="1.5" stroke-dasharray="1.5 2.38"/>
<line x1="341.7" y1="1671.4" x2="564.3" y2="1671.4" stroke="#6a6a6a" stroke-width="1.5" stroke-dasharray="1.5 2.38"/>
<line x1="585.8" y1="1671.4" x2="803.2" y2="1671.4" stroke="#6a6a6a" stroke-width="1.5" stroke-dasharray="1.5 2.38"/>
<line x1="341.7" y1="1703.2" x2="564.3" y2="1703.2" stroke="#6a6a6a" stroke-width="1.5" stroke-dasharray="1.5 2.38"/>
<line x1="585.8" y1="1703.2" x2="803.2" y2="1703.2" stroke="#6a6a6a" stroke-width="1.5" stroke-dasharray="1.5 2.38"/>
<line x1="341.7" y1="1734.9" x2="564.3" y2="1734.9" stroke="#6a6a6a" stroke-width="1.5" stroke-dasharray="1.5 2.38"/>
<line x1="585.8" y1="1734.9" x2="803.2" y2="1734.9" stroke="#6a6a6a" stroke-width="1.5" stroke-dasharray="1.5 2.38"/>
<line x1="341.7" y1="1766.7" x2="564.3" y2="1766.7" stroke="#6a6a6a" stroke-width="1.5" stroke-dasharray="1.5 2.38"/>
<line x1="585.8" y1="1766.7" x2="803.2" y2="1766.7" stroke="#6a6a6a" stroke-width="1.5" stroke-dasharray="1.5 2.38"/>
<line x1="341.7" y1="1798.5" x2="564.3" y2="1798.5" stroke="#6a6a6a" stroke-width="1.5" stroke-dasharray="1.5 2.38"/>
<line x1="585.8" y1="1798.5" x2="803.2" y2="1798.5" stroke="#6a6a6a" stroke-width="1.5" stroke-dasharray="1.5 2.38"/>
<line x1="341.7" y1="1830.3" x2="564.3" y2="1830.3" stroke="#6a6a6a" stroke-width="1.5" stroke-dasharray="1.5 2.38"/>
<line x1="585.8" y1="1830.3" x2="803.2" y2="1830.3" stroke="#6a6a6a" stroke-width="1.5" stroke-dasharray="1.5 2.38"/>
<rect x="338.9" y="1561.8" width="52.5" height="28.4" fill="#000" rx="0.8"/>
<rect x="338.9" y="1593.6" width="76.6" height="28.4" fill="#000" rx="0.8"/>
<rect x="338.9" y="1625.4" width="91.8" height="28.4" fill="#000" rx="0.8"/>
<rect x="338.9" y="1657.2" width="102.8" height="28.4" fill="#000" rx="0.8"/>
<rect x="338.9" y="1689.0" width="129.5" height="28.4" fill="#000" rx="0.8"/>
<rect x="338.9" y="1720.7" width="140.1" height="28.4" fill="#000" rx="0.8"/>
<rect x="338.9" y="1752.5" width="153.8" height="28.4" fill="#000" rx="0.8"/>
<rect x="338.9" y="1784.3" width="204.5" height="28.4" fill="#000" rx="0.8"/>
<rect x="338.9" y="1816.1" width="221.4" height="28.4" fill="#000" rx="0.8"/>
<rect x="583.0" y="1466.5" width="131.3" height="28.4" fill="#000" rx="0.8"/>
<rect x="583.0" y="1498.3" width="57.5" height="28.4" fill="#000" rx="0.8"/>
<rect x="583.0" y="1530.1" width="52.1" height="28.4" fill="#000" rx="0.8"/>
<rect x="583.0" y="1561.8" width="44.2" height="28.4" fill="#000" rx="0.8"/>
<rect x="583.0" y="1593.6" width="217.2" height="28.4" fill="#000" rx="0.8"/>
<rect x="583.0" y="1625.4" width="138.2" height="28.4" fill="#000" rx="0.8"/>
<rect x="583.0" y="1657.2" width="198.9" height="28.4" fill="#000" rx="0.8"/>
<rect x="583.0" y="1689.0" width="68.9" height="28.4" fill="#000" rx="0.8"/>
<rect x="583.0" y="1720.7" width="216.4" height="28.4" fill="#000" rx="0.8"/>
<rect x="583.0" y="1752.5" width="56.9" height="28.4" fill="#000" rx="0.8"/>
<rect x="583.0" y="1784.3" width="66.6" height="28.4" fill="#000" rx="0.8"/>
<rect x="583.0" y="1816.1" width="176.9" height="28.4" fill="#000" rx="0.8"/>
<rect x="338.9" y="1460.2" width="228.2" height="390.0" fill="none" stroke="#000" stroke-width="5.5" stroke-linejoin="round"/>
<rect x="583.0" y="1460.2" width="223.0" height="390.0" fill="none" stroke="#000" stroke-width="5.5" stroke-linejoin="round"/>
<line x1="338.6" y1="1850.2" x2="338.6" y2="1860.2" stroke="#000" stroke-width="5" stroke-linecap="round"/>
<text transform="translate(338.60,1885.40) scale(1,1.040)" font-size="25.00" text-anchor="middle">0</text>
<line x1="393.2" y1="1850.2" x2="393.2" y2="1860.2" stroke="#000" stroke-width="5" stroke-linecap="round"/>
<text transform="translate(393.25,1885.40) scale(1,1.040)" font-size="25.00" text-anchor="middle">20</text>
<line x1="447.9" y1="1850.2" x2="447.9" y2="1860.2" stroke="#000" stroke-width="5" stroke-linecap="round"/>
<text transform="translate(447.90,1885.40) scale(1,1.040)" font-size="25.00" text-anchor="middle">40</text>
<line x1="502.6" y1="1850.2" x2="502.6" y2="1860.2" stroke="#000" stroke-width="5" stroke-linecap="round"/>
<text transform="translate(502.55,1885.40) scale(1,1.040)" font-size="25.00" text-anchor="middle">60</text>
<line x1="557.2" y1="1850.2" x2="557.2" y2="1860.2" stroke="#000" stroke-width="5" stroke-linecap="round"/>
<text transform="translate(557.20,1885.40) scale(1,1.040)" font-size="25.00" text-anchor="middle">80</text>
<text transform="translate(453.00,1916.20) scale(1,1.040)" font-size="32.40" text-anchor="middle">Distance (KB)</text>
<line x1="583.4" y1="1850.2" x2="583.4" y2="1860.2" stroke="#000" stroke-width="5" stroke-linecap="round"/>
<text transform="translate(583.40,1885.40) scale(1,1.040)" font-size="25.00" text-anchor="middle">1</text>
<line x1="633.4" y1="1850.2" x2="633.4" y2="1860.2" stroke="#000" stroke-width="5" stroke-linecap="round"/>
<line x1="683.4" y1="1850.2" x2="683.4" y2="1860.2" stroke="#000" stroke-width="5" stroke-linecap="round"/>
<text transform="translate(683.40,1885.40) scale(1,1.040)" font-size="25.00" text-anchor="middle">2</text>
<line x1="733.4" y1="1850.2" x2="733.4" y2="1860.2" stroke="#000" stroke-width="5" stroke-linecap="round"/>
<line x1="783.4" y1="1850.2" x2="783.4" y2="1860.2" stroke="#000" stroke-width="5" stroke-linecap="round"/>
<text transform="translate(783.40,1885.40) scale(1,1.040)" font-size="25.00" text-anchor="middle">4</text>
<text transform="translate(694.50,1916.20) scale(1,1.040)" font-size="32.40" text-anchor="middle">PP/PN (Skin)</text>
<text transform="translate(326.90,1490.30) scale(1,1.040)" font-size="25.40" text-anchor="end">GJB2 (chr13, 20762956)</text>
<text transform="translate(326.90,1522.08) scale(1,1.040)" font-size="25.40" text-anchor="end">STAT2 (chr12, 56750204)</text>
<text transform="translate(326.90,1553.86) scale(1,1.040)" font-size="25.40" text-anchor="end">AP5B1 (chr11, 65546857)</text>
<text transform="translate(326.90,1585.64) scale(1,1.040)" font-size="25.40" text-anchor="end">RAVER1 (chr19, 10463118)</text>
<text transform="translate(326.90,1617.42) scale(1,1.040)" font-size="25.40" text-anchor="end">GJA3 (chr13, 20762956)</text>
<text transform="translate(326.90,1649.20) scale(1,1.040)" font-size="25.40" text-anchor="end">GJB6 (chr13, 20762956)</text>
<text transform="translate(326.90,1680.98) scale(1,1.040)" font-size="25.40" text-anchor="end">LCE3D (chr1, 152590187)</text>
<text transform="translate(326.90,1712.76) scale(1,1.040)" font-size="25.40" text-anchor="end">IL12RB2 (chr1, 67726104)</text>
<text transform="translate(326.90,1744.54) scale(1,1.040)" font-size="25.40" text-anchor="end">LCE3E (chr1, 152590187)</text>
<text transform="translate(326.90,1776.32) scale(1,1.040)" font-size="25.40" text-anchor="end">RNF213 (chr17, 78178893)</text>
<text transform="translate(326.90,1808.10) scale(1,1.040)" font-size="25.40" text-anchor="end">PPIF (chr10, 81032885)</text>
<text transform="translate(326.90,1839.88) scale(1,1.040)" font-size="25.40" text-anchor="end">LCE2A (chr1, 152590187)</text>
<text transform="translate(10.90,1906.20) scale(1,1.040)" font-size="44.30">(I)</text>
<line x1="1180.2" y1="1478.1" x2="1395.8" y2="1478.1" stroke="#6a6a6a" stroke-width="1.5" stroke-dasharray="1.5 2.38"/>
<line x1="1417.2" y1="1478.1" x2="1626.7" y2="1478.1" stroke="#6a6a6a" stroke-width="1.5" stroke-dasharray="1.5 2.38"/>
<line x1="1180.2" y1="1509.9" x2="1395.8" y2="1509.9" stroke="#6a6a6a" stroke-width="1.5" stroke-dasharray="1.5 2.38"/>
<line x1="1417.2" y1="1509.9" x2="1626.7" y2="1509.9" stroke="#6a6a6a" stroke-width="1.5" stroke-dasharray="1.5 2.38"/>
<line x1="1180.2" y1="1541.7" x2="1395.8" y2="1541.7" stroke="#6a6a6a" stroke-width="1.5" stroke-dasharray="1.5 2.38"/>
<line x1="1417.2" y1="1541.7" x2="1626.7" y2="1541.7" stroke="#6a6a6a" stroke-width="1.5" stroke-dasharray="1.5 2.38"/>
<line x1="1180.2" y1="1573.4" x2="1395.8" y2="1573.4" stroke="#6a6a6a" stroke-width="1.5" stroke-dasharray="1.5 2.38"/>
<line x1="1417.2" y1="1573.4" x2="1626.7" y2="1573.4" stroke="#6a6a6a" stroke-width="1.5" stroke-dasharray="1.5 2.38"/>
<line x1="1180.2" y1="1605.2" x2="1395.8" y2="1605.2" stroke="#6a6a6a" stroke-width="1.5" stroke-dasharray="1.5 2.38"/>
<line x1="1417.2" y1="1605.2" x2="1626.7" y2="1605.2" stroke="#6a6a6a" stroke-width="1.5" stroke-dasharray="1.5 2.38"/>
<line x1="1180.2" y1="1637.0" x2="1395.8" y2="1637.0" stroke="#6a6a6a" stroke-width="1.5" stroke-dasharray="1.5 2.38"/>
<line x1="1417.2" y1="1637.0" x2="1626.7" y2="1637.0" stroke="#6a6a6a" stroke-width="1.5" stroke-dasharray="1.5 2.38"/>
<line x1="1180.2" y1="1668.8" x2="1395.8" y2="1668.8" stroke="#6a6a6a" stroke-width="1.5" stroke-dasharray="1.5 2.38"/>
<line x1="1417.2" y1="1668.8" x2="1626.7" y2="1668.8" stroke="#6a6a6a" stroke-width="1.5" stroke-dasharray="1.5 2.38"/>
<line x1="1180.2" y1="1700.6" x2="1395.8" y2="1700.6" stroke="#6a6a6a" stroke-width="1.5" stroke-dasharray="1.5 2.38"/>
<line x1="1417.2" y1="1700.6" x2="1626.7" y2="1700.6" stroke="#6a6a6a" stroke-width="1.5" stroke-dasharray="1.5 2.38"/>
<line x1="1180.2" y1="1732.3" x2="1395.8" y2="1732.3" stroke="#6a6a6a" stroke-width="1.5" stroke-dasharray="1.5 2.38"/>
<line x1="1417.2" y1="1732.3" x2="1626.7" y2="1732.3" stroke="#6a6a6a" stroke-width="1.5" stroke-dasharray="1.5 2.38"/>
<line x1="1180.2" y1="1764.1" x2="1395.8" y2="1764.1" stroke="#6a6a6a" stroke-width="1.5" stroke-dasharray="1.5 2.38"/>
<line x1="1417.2" y1="1764.1" x2="1626.7" y2="1764.1" stroke="#6a6a6a" stroke-width="1.5" stroke-dasharray="1.5 2.38"/>
<line x1="1180.2" y1="1795.9" x2="1395.8" y2="1795.9" stroke="#6a6a6a" stroke-width="1.5" stroke-dasharray="1.5 2.38"/>
<line x1="1417.2" y1="1795.9" x2="1626.7" y2="1795.9" stroke="#6a6a6a" stroke-width="1.5" stroke-dasharray="1.5 2.38"/>
<line x1="1180.2" y1="1827.7" x2="1395.8" y2="1827.7" stroke="#6a6a6a" stroke-width="1.5" stroke-dasharray="1.5 2.38"/>
<line x1="1417.2" y1="1827.7" x2="1626.7" y2="1827.7" stroke="#6a6a6a" stroke-width="1.5" stroke-dasharray="1.5 2.38"/>
<rect x="1177.4" y="1527.5" width="20.2" height="28.4" fill="#000" rx="0.8"/>
<rect x="1177.4" y="1559.2" width="34.7" height="28.4" fill="#000" rx="0.8"/>
<rect x="1177.4" y="1591.0" width="70.1" height="28.4" fill="#000" rx="0.8"/>
<rect x="1177.4" y="1622.8" width="83.0" height="28.4" fill="#000" rx="0.8"/>
<rect x="1177.4" y="1654.6" width="93.4" height="28.4" fill="#000" rx="0.8"/>
<rect x="1177.4" y="1686.4" width="94.4" height="28.4" fill="#000" rx="0.8"/>
<rect x="1177.4" y="1718.1" width="100.3" height="28.4" fill="#000" rx="0.8"/>
<rect x="1177.4" y="1749.9" width="127.3" height="28.4" fill="#000" rx="0.8"/>
<rect x="1177.4" y="1781.7" width="185.3" height="28.4" fill="#000" rx="0.8"/>
<rect x="1177.4" y="1813.5" width="214.7" height="28.4" fill="#000" rx="0.8"/>
<rect x="1552.0" y="1464.1" width="77.5" height="28.0" fill="#000" rx="1.5"/>
<rect x="1595.3" y="1495.9" width="34.2" height="28.0" fill="#000" rx="1.5"/>
<rect x="1535.4" y="1527.7" width="94.1" height="28.0" fill="#000" rx="1.5"/>
<rect x="1564.1" y="1559.4" width="65.4" height="28.0" fill="#000" rx="1.5"/>
<rect x="1566.2" y="1591.2" width="63.3" height="28.0" fill="#000" rx="1.5"/>
<rect x="1510.7" y="1623.0" width="118.8" height="28.0" fill="#000" rx="1.5"/>
<rect x="1421.6" y="1654.8" width="207.9" height="28.0" fill="#000" rx="1.5"/>
<rect x="1424.6" y="1657.8" width="204.9" height="22.0" fill="#0000ff"/>
<rect x="1602.6" y="1686.6" width="26.9" height="28.0" fill="#000" rx="1.5"/>
<rect x="1543.7" y="1718.3" width="85.8" height="28.0" fill="#000" rx="1.5"/>
<rect x="1433.1" y="1750.1" width="196.4" height="28.0" fill="#000" rx="1.5"/>
<rect x="1436.1" y="1753.1" width="193.4" height="22.0" fill="#0000ff"/>
<rect x="1594.9" y="1781.9" width="34.6" height="28.0" fill="#000" rx="1.5"/>
<rect x="1598.8" y="1813.7" width="30.7" height="28.0" fill="#000" rx="1.5"/>
<rect x="1177.4" y="1457.6" width="221.2" height="390.0" fill="none" stroke="#000" stroke-width="5.5" stroke-linejoin="round"/>
<rect x="1414.4" y="1457.6" width="215.1" height="390.0" fill="none" stroke="#000" stroke-width="5.5" stroke-linejoin="round"/>
<line x1="1177.0" y1="1847.6" x2="1177.0" y2="1857.6" stroke="#000" stroke-width="5" stroke-linecap="round"/>
<text transform="translate(1177.00,1882.80) scale(1,1.040)" font-size="25.00" text-anchor="middle">0</text>
<line x1="1226.5" y1="1847.6" x2="1226.5" y2="1857.6" stroke="#000" stroke-width="5" stroke-linecap="round"/>
<text transform="translate(1226.50,1882.80) scale(1,1.040)" font-size="25.00" text-anchor="middle">20</text>
<line x1="1276.0" y1="1847.6" x2="1276.0" y2="1857.6" stroke="#000" stroke-width="5" stroke-linecap="round"/>
<line x1="1325.5" y1="1847.6" x2="1325.5" y2="1857.6" stroke="#000" stroke-width="5" stroke-linecap="round"/>
<text transform="translate(1325.50,1882.80) scale(1,1.040)" font-size="25.00" text-anchor="middle">60</text>
<line x1="1375.0" y1="1847.6" x2="1375.0" y2="1857.6" stroke="#000" stroke-width="5" stroke-linecap="round"/>
<text transform="translate(1288.00,1913.60) scale(1,1.040)" font-size="32.40" text-anchor="middle">Distance (KB)</text>
<line x1="1629.5" y1="1847.6" x2="1629.5" y2="1857.6" stroke="#000" stroke-width="5" stroke-linecap="round"/>
<text transform="translate(1629.50,1882.80) scale(1,1.040)" font-size="25.00" text-anchor="middle">1</text>
<line x1="1583.5" y1="1847.6" x2="1583.5" y2="1857.6" stroke="#000" stroke-width="5" stroke-linecap="round"/>
<line x1="1537.5" y1="1847.6" x2="1537.5" y2="1857.6" stroke="#000" stroke-width="5" stroke-linecap="round"/>
<text transform="translate(1537.50,1882.80) scale(1,1.040)" font-size="25.00" text-anchor="middle">0.25</text>
<line x1="1491.5" y1="1847.6" x2="1491.5" y2="1857.6" stroke="#000" stroke-width="5" stroke-linecap="round"/>
<line x1="1445.5" y1="1847.6" x2="1445.5" y2="1857.6" stroke="#000" stroke-width="5" stroke-linecap="round"/>
<text transform="translate(1445.50,1882.80) scale(1,1.040)" font-size="25.00" text-anchor="middle">0.06</text>
<text transform="translate(1521.95,1913.60) scale(1,1.040)" font-size="32.40" text-anchor="middle">PN/NN (Skin)</text>
<text transform="translate(1165.40,1487.70) scale(1,1.040)" font-size="25.40" text-anchor="end">GJB2 (chr13, 20762956)</text>
<text transform="translate(1165.40,1519.48) scale(1,1.040)" font-size="25.40" text-anchor="end">TMC6 (chr17, 76121318)</text>
<text transform="translate(1165.40,1551.26) scale(1,1.040)" font-size="25.40" text-anchor="end">OVOL1 (chr11, 65546857)</text>
<text transform="translate(1165.40,1583.04) scale(1,1.040)" font-size="25.40" text-anchor="end">AIM1L (chr1, 26694260)</text>
<text transform="translate(1165.40,1614.82) scale(1,1.040)" font-size="25.40" text-anchor="end">GJA3 (chr13, 20762956)</text>
<text transform="translate(1165.40,1646.60) scale(1,1.040)" font-size="25.40" text-anchor="end">GJB6 (chr13, 20762956)</text>
<text transform="translate(1165.40,1678.38) scale(1,1.040)" font-size="25.40" text-anchor="end">LCE3D (chr1, 152590187)</text>
<text transform="translate(1165.40,1710.16) scale(1,1.040)" font-size="25.40" text-anchor="end">ZSWIM8 (chr10, 75599127)</text>
<text transform="translate(1165.40,1741.94) scale(1,1.040)" font-size="25.40" text-anchor="end">CSTA (chr3, 122003769)</text>
<text transform="translate(1165.40,1773.72) scale(1,1.040)" font-size="25.40" text-anchor="end">LCE3E (chr1, 152590187)</text>
<text transform="translate(1165.40,1805.50) scale(1,1.040)" font-size="25.40" text-anchor="end">PPIF (chr10, 81032885)</text>
<text transform="translate(1165.40,1837.28) scale(1,1.040)" font-size="25.40" text-anchor="end">SH3BGRL3 (chr1, 26694260)</text>
<text transform="translate(833.80,1903.80) scale(1,1.040)" font-size="44.30">(J)</text>
</svg></body></html>
